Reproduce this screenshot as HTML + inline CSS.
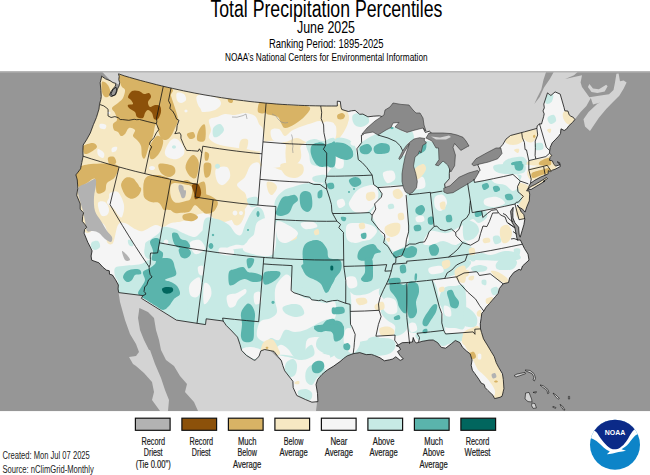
<!DOCTYPE html>
<html><head><meta charset="utf-8"><title>Total Precipitation Percentiles</title>
<style>html,body{margin:0;padding:0;background:#fff;overflow:hidden}body{width:650px;height:475px;position:relative}</style></head>
<body>
<svg width="650" height="475" viewBox="0 0 650 475" style="position:absolute;left:0;top:0">
<defs>
<clipPath id="mapclip"><rect x="0" y="71.3" width="650" height="340.0"/></clipPath>
<clipPath id="usclip"><path d="M101.6,76.9 L100.2,82.8 L100.9,90.3 L101.3,96.5 L100.8,99.6 L99.5,104.3 L99.0,109.0 L96.4,117.6 L93.4,124.7 L90.3,133.0 L86.5,139.9 L83.2,145.0 L82.9,150.8 L83.1,156.2 L81.8,162.6 L80.5,168.9 L75.9,174.9 L77.3,180.0 L77.8,188.3 L76.7,195.3 L80.2,203.8 L80.2,209.2 L83.6,212.9 L82.6,216.7 L82.3,221.3 L85.3,224.9 L86.7,227.3 L84.6,229.4 L84.1,233.2 L87.8,242.3 L90.7,247.9 L92.1,250.9 L91.1,256.0 L91.7,260.2 L98.9,262.8 L102.9,267.2 L106.4,270.1 L109.3,270.8 L109.5,274.2 L112.4,275.0 L115.5,279.7 L118.4,285.0 L118.1,288.9 L118.7,292.6 L142.9,295.6 L141.4,298.3 L176.4,320.1 L205.5,324.6 L206.2,318.8 L223.2,321.0 L226.2,325.4 L231.8,331.0 L237.5,337.1 L240.0,344.5 L241.6,350.4 L246.4,355.4 L253.5,359.8 L255.0,360.3 L259.0,356.4 L260.8,350.9 L264.7,349.5 L274.0,351.4 L278.0,356.7 L281.3,360.4 L282.8,365.6 L284.7,370.8 L292.9,381.3 L293.2,387.7 L296.8,395.5 L305.4,399.5 L311.9,402.2 L317.9,401.6 L317.5,393.4 L316.0,384.5 L317.7,379.4 L322.0,374.4 L327.3,370.0 L333.7,366.1 L340.0,361.6 L343.7,358.4 L347.3,355.8 L353.2,353.7 L359.8,352.6 L366.2,354.6 L371.4,354.4 L374.6,355.5 L380.0,357.8 L384.4,360.8 L389.6,359.8 L392.7,359.0 L395.8,356.8 L400.2,360.4 L403.3,358.9 L399.9,355.3 L397.5,351.6 L400.5,349.5 L399.3,347.0 L396.1,345.7 L398.2,345.1 L402.2,342.7 L408.4,342.4 L412.5,342.0 L413.2,337.5 L414.6,341.2 L416.3,343.0 L418.6,342.4 L421.9,341.4 L429.1,340.1 L433.2,340.0 L437.7,342.7 L441.3,347.4 L445.7,348.2 L451.5,343.6 L455.3,340.5 L459.8,342.5 L462.5,347.3 L466.7,351.2 L470.2,353.9 L472.1,360.0 L471.2,365.3 L472.4,370.3 L475.0,373.8 L479.1,379.6 L481.2,383.1 L484.2,384.5 L485.2,387.6 L487.8,390.4 L493.0,395.3 L494.6,398.6 L500.0,397.3 L502.0,396.3 L502.4,395.0 L503.9,388.7 L503.3,379.4 L502.4,373.7 L498.6,367.3 L496.2,362.6 L494.2,356.5 L491.3,351.8 L487.8,345.9 L483.5,338.9 L481.6,332.7 L480.5,328.9 L480.3,323.8 L481.1,318.5 L481.8,313.2 L483.8,311.1 L486.1,307.2 L489.6,303.4 L492.2,300.3 L495.6,296.4 L498.2,293.3 L499.4,288.5 L503.1,283.8 L508.5,282.5 L509.6,277.9 L513.7,272.5 L519.1,269.3 L521.0,270.2 L522.5,266.0 L529.0,260.1 L528.0,254.1 L524.4,248.4 L522.4,244.2 L520.4,240.0 L517.3,240.1 L515.9,233.1 L514.7,226.8 L511.9,222.1 L511.1,215.7 L510.6,211.2 L513.2,207.3 L512.8,212.7 L512.9,217.9 L514.9,222.8 L518.6,227.2 L519.2,235.0 L520.2,237.2 L522.2,230.4 L523.9,224.7 L524.8,219.2 L523.8,214.4 L521.3,212.1 L519.6,208.5 L517.4,205.0 L518.3,206.8 L522.5,209.1 L525.1,212.1 L526.8,206.8 L529.3,200.9 L529.7,194.1 L528.9,190.8 L526.6,190.9 L528.3,187.9 L528.9,186.4 L530.5,183.3 L534.9,180.2 L540.7,177.1 L545.2,175.2 L548.2,173.7 L548.3,170.6 L550.5,171.7 L551.1,171.1 L552.4,170.1 L555.0,169.3 L560.3,166.5 L559.6,162.7 L557.2,161.8 L559.0,163.5 L559.9,164.8 L555.5,166.1 L553.6,163.8 L552.3,160.8 L549.4,160.3 L550.1,157.4 L551.8,155.3 L549.5,153.3 L549.7,150.6 L550.2,147.4 L552.2,142.8 L555.1,139.9 L558.6,136.2 L560.5,133.6 L561.0,128.8 L564.2,130.5 L566.5,129.1 L569.1,125.5 L572.6,122.4 L574.8,119.6 L573.4,117.4 L570.8,116.2 L569.1,114.8 L568.0,111.1 L564.8,110.8 L564.1,107.7 L560.2,94.1 L555.1,91.9 L550.9,95.5 L549.3,94.4 L547.5,92.9 L543.8,104.1 L544.3,107.9 L543.0,110.9 L544.2,113.9 L543.6,116.7 L541.5,124.0 L539.5,123.9 L537.2,125.9 L536.9,128.4 L524.6,131.8 L510.5,135.5 L506.0,139.1 L502.8,144.5 L499.2,148.6 L496.3,156.7 L480.1,160.0 L477.9,165.2 L480.1,170.2 L471.7,179.0 L450.9,190.5 L445.0,187.2 L444.6,184.0 L449.3,178.8 L449.3,173.6 L450.3,160.4 L444.7,144.5 L435.4,138.7 L434.2,135.7 L429.4,131.2 L425.3,132.4 L422.6,126.9 L408.3,120.9 L392.1,112.3 L385.0,116.6 L382.8,116.8 L379.3,115.8 L373.2,116.2 L367.9,116.8 L362.9,114.1 L359.7,114.3 L355.1,110.4 L351.5,110.8 L348.3,111.5 L341.8,109.5 L341.0,107.2 L340.3,101.5 L337.3,101.2 L337.3,106.0 L331.8,106.0 L326.3,106.0 L320.8,105.9 L315.2,105.8 L309.7,105.7 L304.2,105.5 L298.6,105.3 L293.1,105.0 L287.6,104.7 L282.1,104.4 L276.5,104.0 L271.0,103.5 L265.5,103.1 L260.0,102.5 L254.5,102.0 L249.0,101.4 L243.5,100.7 L238.0,100.0 L232.5,99.3 L227.0,98.5 L221.5,97.7 L216.1,96.8 L210.6,95.9 L205.1,95.0 L199.7,94.0 L194.2,93.0 L188.8,91.9 L183.4,90.8 L178.0,89.6 L172.5,88.4 L167.1,87.2 L161.7,85.9 L156.3,84.6 L151.0,83.2 L145.6,81.8 L140.2,80.4 L134.9,78.9 L129.5,77.4 L124.2,75.8 L118.5,73.8 L119.2,76.5 L118.8,79.5 L119.6,82.6 L119.2,85.7 L118.0,88.0 L116.5,91.0 L115.4,94.2 L113.0,96.0 L110.8,96.5 L109.6,95.0 L110.8,91.8 L113.0,88.8 L115.4,86.0 L115.8,83.4 L113.0,82.6 L110.0,80.7 L105.4,78.8 L101.5,76.1Z M528.0,189.0 L531.0,186.5 L536.0,184.0 L541.0,181.0 L546.5,177.5 L547.5,178.5 L543.0,181.5 L545.0,181.0 L541.0,183.5 L536.0,186.5 L531.0,189.5Z"/></clipPath>
</defs>
<g clip-path="url(#mapclip)">
<rect x="0" y="71.3" width="650" height="340.0" fill="#969696"/>
<path d="M100.5,70.0 L578.4,70.0 L578.4,71.2 L574.0,75.3 L565.2,79.0 L574.0,77.0 L582.0,75.3 L580.6,82.6 L582.0,87.0 L589.4,97.2 L598.9,95.8 L609.0,94.3 L613.5,90.0 L615.0,82.6 L616.4,73.8 L618.6,73.6 L620.0,81.2 L623.7,80.4 L626.6,82.6 L623.7,88.5 L619.3,95.8 L613.5,101.6 L606.2,109.0 L598.9,117.7 L593.0,126.5 L590.0,130.9 L585.0,126.5 L583.5,119.2 L588.6,111.9 L597.4,103.8 L600.3,102.4 L593.0,104.5 L590.8,98.0 L586.4,106.0 L580.6,111.9 L575.5,118.4 L574.0,119.2 L560.0,130.0 L520.0,150.0 L480.0,185.0 L445.0,192.0 L440.0,180.0 L420.0,150.0 L400.0,130.0 L365.0,133.0 L330.0,115.0 L120.0,85.0 L112.0,82.0 L106.0,76.0Z" fill="#d3d3d3"/>
<path d="M587.9,87.0 L589.4,84.0 L593.0,88.5 L598.9,89.2 L606.2,84.8 L607.6,86.3 L604.7,91.4 L597.4,92.9 L591.5,92.1Z" fill="#d3d3d3"/>
<path d="M118.6,292.4 L120.0,302.0 L125.0,320.0 L130.0,334.0 L136.0,344.0 L139.0,352.0 L136.0,356.0 L129.0,357.0 L133.0,364.0 L136.0,366.0 L144.0,373.0 L152.0,382.0 L154.0,392.0 L152.0,400.0 L160.0,411.0 L316.0,411.0 L317.0,403.0 L300.0,380.0 L260.0,340.0 L210.0,315.0 L150.0,290.0Z" fill="#d3d3d3"/>
<path d="M101.6,76.9 L100.2,82.8 L100.9,90.3 L101.3,96.5 L100.8,99.6 L99.5,104.3 L99.0,109.0 L96.4,117.6 L93.4,124.7 L90.3,133.0 L86.5,139.9 L83.2,145.0 L82.9,150.8 L83.1,156.2 L81.8,162.6 L80.5,168.9 L75.9,174.9 L77.3,180.0 L77.8,188.3 L76.7,195.3 L80.2,203.8 L80.2,209.2 L83.6,212.9 L82.6,216.7 L82.3,221.3 L85.3,224.9 L86.7,227.3 L84.6,229.4 L84.1,233.2 L87.8,242.3 L90.7,247.9 L92.1,250.9 L91.1,256.0 L91.7,260.2 L98.9,262.8 L102.9,267.2 L106.4,270.1 L109.3,270.8 L109.5,274.2 L112.4,275.0 L115.5,279.7 L118.4,285.0 L118.1,288.9 L118.7,292.6 L142.9,295.6 L141.4,298.3 L176.4,320.1 L205.5,324.6 L206.2,318.8 L223.2,321.0 L226.2,325.4 L231.8,331.0 L237.5,337.1 L240.0,344.5 L241.6,350.4 L246.4,355.4 L253.5,359.8 L255.0,360.3 L259.0,356.4 L260.8,350.9 L264.7,349.5 L274.0,351.4 L278.0,356.7 L281.3,360.4 L282.8,365.6 L284.7,370.8 L292.9,381.3 L293.2,387.7 L296.8,395.5 L305.4,399.5 L311.9,402.2 L317.9,401.6 L317.5,393.4 L316.0,384.5 L317.7,379.4 L322.0,374.4 L327.3,370.0 L333.7,366.1 L340.0,361.6 L343.7,358.4 L347.3,355.8 L353.2,353.7 L359.8,352.6 L366.2,354.6 L371.4,354.4 L374.6,355.5 L380.0,357.8 L384.4,360.8 L389.6,359.8 L392.7,359.0 L395.8,356.8 L400.2,360.4 L403.3,358.9 L399.9,355.3 L397.5,351.6 L400.5,349.5 L399.3,347.0 L396.1,345.7 L398.2,345.1 L402.2,342.7 L408.4,342.4 L412.5,342.0 L413.2,337.5 L414.6,341.2 L416.3,343.0 L418.6,342.4 L421.9,341.4 L429.1,340.1 L433.2,340.0 L437.7,342.7 L441.3,347.4 L445.7,348.2 L451.5,343.6 L455.3,340.5 L459.8,342.5 L462.5,347.3 L466.7,351.2 L470.2,353.9 L472.1,360.0 L471.2,365.3 L472.4,370.3 L475.0,373.8 L479.1,379.6 L481.2,383.1 L484.2,384.5 L485.2,387.6 L487.8,390.4 L493.0,395.3 L494.6,398.6 L500.0,397.3 L502.0,396.3 L502.4,395.0 L503.9,388.7 L503.3,379.4 L502.4,373.7 L498.6,367.3 L496.2,362.6 L494.2,356.5 L491.3,351.8 L487.8,345.9 L483.5,338.9 L481.6,332.7 L480.5,328.9 L480.3,323.8 L481.1,318.5 L481.8,313.2 L483.8,311.1 L486.1,307.2 L489.6,303.4 L492.2,300.3 L495.6,296.4 L498.2,293.3 L499.4,288.5 L503.1,283.8 L508.5,282.5 L509.6,277.9 L513.7,272.5 L519.1,269.3 L521.0,270.2 L522.5,266.0 L529.0,260.1 L528.0,254.1 L524.4,248.4 L522.4,244.2 L520.4,240.0 L517.3,240.1 L515.9,233.1 L514.7,226.8 L511.9,222.1 L511.1,215.7 L510.6,211.2 L513.2,207.3 L512.8,212.7 L512.9,217.9 L514.9,222.8 L518.6,227.2 L519.2,235.0 L520.2,237.2 L522.2,230.4 L523.9,224.7 L524.8,219.2 L523.8,214.4 L521.3,212.1 L519.6,208.5 L517.4,205.0 L518.3,206.8 L522.5,209.1 L525.1,212.1 L526.8,206.8 L529.3,200.9 L529.7,194.1 L528.9,190.8 L526.6,190.9 L528.3,187.9 L528.9,186.4 L530.5,183.3 L534.9,180.2 L540.7,177.1 L545.2,175.2 L548.2,173.7 L548.3,170.6 L550.5,171.7 L551.1,171.1 L552.4,170.1 L555.0,169.3 L560.3,166.5 L559.6,162.7 L557.2,161.8 L559.0,163.5 L559.9,164.8 L555.5,166.1 L553.6,163.8 L552.3,160.8 L549.4,160.3 L550.1,157.4 L551.8,155.3 L549.5,153.3 L549.7,150.6 L550.2,147.4 L552.2,142.8 L555.1,139.9 L558.6,136.2 L560.5,133.6 L561.0,128.8 L564.2,130.5 L566.5,129.1 L569.1,125.5 L572.6,122.4 L574.8,119.6 L573.4,117.4 L570.8,116.2 L569.1,114.8 L568.0,111.1 L564.8,110.8 L564.1,107.7 L560.2,94.1 L555.1,91.9 L550.9,95.5 L549.3,94.4 L547.5,92.9 L543.8,104.1 L544.3,107.9 L543.0,110.9 L544.2,113.9 L543.6,116.7 L541.5,124.0 L539.5,123.9 L537.2,125.9 L536.9,128.4 L524.6,131.8 L510.5,135.5 L506.0,139.1 L502.8,144.5 L499.2,148.6 L496.3,156.7 L480.1,160.0 L477.9,165.2 L480.1,170.2 L471.7,179.0 L450.9,190.5 L445.0,187.2 L444.6,184.0 L449.3,178.8 L449.3,173.6 L450.3,160.4 L444.7,144.5 L435.4,138.7 L434.2,135.7 L429.4,131.2 L425.3,132.4 L422.6,126.9 L408.3,120.9 L392.1,112.3 L385.0,116.6 L382.8,116.8 L379.3,115.8 L373.2,116.2 L367.9,116.8 L362.9,114.1 L359.7,114.3 L355.1,110.4 L351.5,110.8 L348.3,111.5 L341.8,109.5 L341.0,107.2 L340.3,101.5 L337.3,101.2 L337.3,106.0 L331.8,106.0 L326.3,106.0 L320.8,105.9 L315.2,105.8 L309.7,105.7 L304.2,105.5 L298.6,105.3 L293.1,105.0 L287.6,104.7 L282.1,104.4 L276.5,104.0 L271.0,103.5 L265.5,103.1 L260.0,102.5 L254.5,102.0 L249.0,101.4 L243.5,100.7 L238.0,100.0 L232.5,99.3 L227.0,98.5 L221.5,97.7 L216.1,96.8 L210.6,95.9 L205.1,95.0 L199.7,94.0 L194.2,93.0 L188.8,91.9 L183.4,90.8 L178.0,89.6 L172.5,88.4 L167.1,87.2 L161.7,85.9 L156.3,84.6 L151.0,83.2 L145.6,81.8 L140.2,80.4 L134.9,78.9 L129.5,77.4 L124.2,75.8 L118.5,73.8 L119.2,76.5 L118.8,79.5 L119.6,82.6 L119.2,85.7 L118.0,88.0 L116.5,91.0 L115.4,94.2 L113.0,96.0 L110.8,96.5 L109.6,95.0 L110.8,91.8 L113.0,88.8 L115.4,86.0 L115.8,83.4 L113.0,82.6 L110.0,80.7 L105.4,78.8 L101.5,76.1Z M528.0,189.0 L531.0,186.5 L536.0,184.0 L541.0,181.0 L546.5,177.5 L547.5,178.5 L543.0,181.5 L545.0,181.0 L541.0,183.5 L536.0,186.5 L531.0,189.5Z" fill="#f5f5f5"/>
<g clip-path="url(#usclip)">
<path d="M95.0,70.0 C137.5,61.7 290.8,86.7 330.0,100.0 C369.2,113.3 335.0,141.7 330.0,150.0 C325.0,158.3 307.5,146.7 300.0,150.0 C292.5,153.3 291.3,167.5 285.0,170.0 C278.7,172.5 267.0,161.7 262.0,165.0 C257.0,168.3 258.7,181.7 255.0,190.0 C251.3,198.3 245.8,209.7 240.0,215.0 C234.2,220.3 225.8,222.3 220.0,222.0 C214.2,221.7 211.2,213.2 205.0,213.0 C198.8,212.8 188.7,219.3 183.0,221.0 C177.3,222.7 174.3,222.0 171.0,223.0 C167.7,224.0 165.7,226.7 163.0,227.0 C160.3,227.3 158.3,224.3 155.0,225.0 C151.7,225.7 146.3,230.3 143.0,231.0 C139.7,231.7 138.0,230.3 135.0,229.0 C132.0,227.7 127.8,223.7 125.0,223.0 C122.2,222.3 120.0,221.7 118.0,225.0 C116.0,228.3 114.8,240.2 113.0,243.0 C111.2,245.8 108.0,244.0 107.0,242.0 C106.0,240.0 108.0,234.2 107.0,231.0 C106.0,227.8 104.3,222.7 101.0,223.0 C97.7,223.3 90.5,234.3 87.0,233.0 C83.5,231.7 82.0,228.8 80.0,215.0 C78.0,201.2 72.5,174.2 75.0,150.0 C77.5,125.8 52.5,78.3 95.0,70.0Z" fill="#f6e8c3"/>
<path d="M335.0,165.0 C356.7,149.2 443.3,155.0 465.0,165.0 C486.7,175.0 465.3,215.0 465.0,225.0 C464.7,235.0 466.0,223.7 463.0,225.0 C460.0,226.3 452.3,232.0 447.0,233.0 C441.7,234.0 435.0,229.3 431.0,231.0 C427.0,232.7 423.0,240.7 423.0,243.0 C423.0,245.3 427.7,245.3 431.0,245.0 C434.3,244.7 439.0,241.0 443.0,241.0 C447.0,241.0 451.3,245.0 455.0,245.0 C458.7,245.0 463.3,238.5 465.0,241.0 C466.7,243.5 486.7,256.8 465.0,260.0 C443.3,263.2 356.7,275.8 335.0,260.0 C313.3,244.2 313.3,180.8 335.0,165.0Z" fill="#c7eae5"/>
<path d="M464.0,173.0 C465.7,166.8 465.1,181.7 474.0,182.0 C482.9,182.3 509.7,174.8 517.4,174.6 C525.1,174.4 519.9,178.9 520.0,181.0 C520.1,183.1 517.7,184.0 518.0,187.0 C518.3,190.0 521.8,196.0 522.0,199.0 C522.2,202.0 520.0,204.2 519.0,205.0 C518.0,205.8 523.8,202.8 516.0,204.0 C508.2,205.2 477.2,210.8 472.0,212.0 C466.8,213.2 482.5,210.2 485.0,211.0 C487.5,211.8 488.0,215.0 487.0,217.0 C486.0,219.0 481.3,222.7 479.0,223.0 C476.7,223.3 475.5,219.7 473.0,219.0 C470.5,218.3 465.5,226.7 464.0,219.0 C462.5,211.3 462.3,179.2 464.0,173.0Z" fill="#c7eae5"/>
<path d="M115.0,268.0 C116.3,266.3 118.7,266.7 123.0,266.0 C127.3,265.3 135.7,265.2 141.0,264.0 C146.3,262.8 144.3,259.8 155.0,259.0 C165.7,258.2 196.7,247.8 205.0,259.0 C213.3,270.2 209.3,315.7 205.0,326.0 C200.7,336.3 189.5,325.7 179.0,321.0 C168.5,316.3 152.0,302.5 142.0,298.0 C132.0,293.5 123.0,296.7 119.0,294.0 C115.0,291.3 118.7,285.0 118.0,282.0 C117.3,279.0 115.5,278.3 115.0,276.0 C114.5,273.7 113.7,269.7 115.0,268.0Z" fill="#c7eae5"/>
<path d="M204.0,259.0 C225.8,243.0 313.2,243.0 335.0,259.0 C356.8,275.0 356.8,339.0 335.0,355.0 C313.2,371.0 225.8,371.0 204.0,355.0 C182.2,339.0 182.2,275.0 204.0,259.0Z" fill="#c7eae5"/>
<path d="M334.0,259.0 C343.8,252.2 383.8,255.8 393.0,259.0 C402.2,262.2 390.3,273.5 389.0,278.0 C387.7,282.5 387.3,284.0 385.0,286.0 C382.7,288.0 378.0,288.7 375.0,290.0 C372.0,291.3 370.3,293.2 367.0,294.0 C363.7,294.8 358.3,295.7 355.0,295.0 C351.7,294.3 348.7,289.2 347.0,290.0 C345.3,290.8 347.2,298.3 345.0,300.0 C342.8,301.7 335.8,306.8 334.0,300.0 C332.2,293.2 324.2,265.8 334.0,259.0Z" fill="#c7eae5"/>
<path d="M334.0,304.0 C335.8,295.3 342.3,302.0 345.0,303.0 C347.7,304.0 349.0,306.2 350.0,310.0 C351.0,313.8 350.5,321.0 351.0,326.0 C351.5,331.0 352.3,335.2 353.0,340.0 C353.7,344.8 358.2,352.5 355.0,355.0 C351.8,357.5 337.5,363.5 334.0,355.0 C330.5,346.5 332.2,312.7 334.0,304.0Z" fill="#c7eae5"/>
<path d="M355.0,344.0 C357.3,341.5 364.7,341.0 369.0,340.0 C373.3,339.0 377.0,338.0 381.0,338.0 C385.0,338.0 390.7,338.3 393.0,340.0 C395.3,341.7 396.3,345.5 395.0,348.0 C393.7,350.5 391.7,353.8 385.0,355.0 C378.3,356.2 360.0,356.8 355.0,355.0 C350.0,353.2 352.7,346.5 355.0,344.0Z" fill="#c7eae5"/>
<path d="M383.0,286.0 C387.7,284.3 402.8,277.3 407.0,284.0 C411.2,290.7 410.0,317.3 408.0,326.0 C406.0,334.7 397.2,336.0 395.0,336.0 C392.8,336.0 396.3,328.7 395.0,326.0 C393.7,323.3 389.3,322.3 387.0,320.0 C384.7,317.7 381.5,315.3 381.0,312.0 C380.5,308.7 384.3,303.0 384.0,300.0 C383.7,297.0 379.2,296.3 379.0,294.0 C378.8,291.7 378.3,287.7 383.0,286.0Z" fill="#c7eae5"/>
<path d="M407.0,283.6 C411.2,276.1 427.3,276.1 433.0,281.0 C438.7,285.9 439.2,304.3 441.0,313.0 C442.8,321.7 447.8,329.7 444.0,333.0 C440.2,336.3 423.7,333.2 418.0,333.0 C412.3,332.8 411.7,333.2 410.0,332.0 C408.3,330.8 408.5,334.1 408.0,326.0 C407.5,317.9 402.8,291.1 407.0,283.6Z" fill="#c7eae5"/>
<path d="M393.0,259.0 C405.7,255.8 453.0,257.2 465.0,259.0 C477.0,260.8 468.5,266.8 465.0,270.0 C461.5,273.2 449.3,276.7 444.0,278.4 C438.7,280.1 439.2,279.1 433.0,280.0 C426.8,280.9 414.5,282.9 407.0,283.6 C399.5,284.3 391.0,285.3 388.0,284.4 C385.0,283.5 388.2,282.2 389.0,278.0 C389.8,273.8 380.3,262.2 393.0,259.0Z" fill="#c7eae5"/>
<path d="M444.0,288.0 C446.7,285.7 451.5,286.0 455.0,286.0 C458.5,286.0 463.3,281.3 465.0,288.0 C466.7,294.7 466.7,319.3 465.0,326.0 C463.3,332.7 458.5,328.0 455.0,328.0 C451.5,328.0 446.0,328.7 444.0,326.0 C442.0,323.3 443.8,316.3 443.0,312.0 C442.2,307.7 438.8,304.0 439.0,300.0 C439.2,296.0 441.3,290.3 444.0,288.0Z" fill="#c7eae5"/>
<path d="M418.0,333.0 C422.2,331.8 436.2,332.8 444.0,333.0 C451.8,333.2 461.5,332.8 465.0,334.0 C468.5,335.2 468.7,338.3 465.0,340.0 C461.3,341.7 450.7,344.0 443.0,344.0 C435.3,344.0 423.2,341.8 419.0,340.0 C414.8,338.2 413.8,334.2 418.0,333.0Z" fill="#c7eae5"/>
<path d="M110.6,113.0 C110.6,113.3 110.4,113.6 110.1,113.8 C109.9,114.0 109.4,114.2 109.0,114.2 C108.6,114.2 108.1,114.0 107.9,113.8 C107.6,113.6 107.4,113.3 107.4,113.0 C107.4,112.7 107.6,112.4 107.9,112.2 C108.1,112.0 108.6,111.8 109.0,111.8 C109.4,111.8 109.9,112.0 110.1,112.2 C110.4,112.4 110.6,112.7 110.6,113.0Z" fill="#f5f5f5"/>
<path d="M100.0,124.0 C101.0,123.5 105.2,124.2 106.0,125.0 C106.8,125.8 106.0,128.5 105.0,129.0 C104.0,129.5 100.8,128.8 100.0,128.0 C99.2,127.2 99.0,124.5 100.0,124.0Z" fill="#f5f5f5"/>
<path d="M98.0,149.0 C99.0,148.7 103.2,151.5 104.0,153.0 C104.8,154.5 104.0,157.7 103.0,158.0 C102.0,158.3 98.8,156.5 98.0,155.0 C97.2,153.5 97.0,149.3 98.0,149.0Z" fill="#f5f5f5"/>
<path d="M112.0,148.0 C112.8,147.2 116.3,146.5 117.0,147.0 C117.7,147.5 116.8,150.2 116.0,151.0 C115.2,151.8 112.7,152.5 112.0,152.0 C111.3,151.5 111.2,148.8 112.0,148.0Z" fill="#f5f5f5"/>
<path d="M166.0,148.0 C167.0,145.7 169.2,141.5 171.0,140.0 C172.8,138.5 175.0,138.0 177.0,139.0 C179.0,140.0 181.8,143.5 183.0,146.0 C184.2,148.5 185.0,151.8 184.0,154.0 C183.0,156.2 179.5,158.3 177.0,159.0 C174.5,159.7 171.0,158.8 169.0,158.0 C167.0,157.2 165.5,155.7 165.0,154.0 C164.5,152.3 165.0,150.3 166.0,148.0Z" fill="#f5f5f5"/>
<path d="M177.0,93.0 C178.2,92.0 182.5,92.8 184.0,94.0 C185.5,95.2 186.5,98.5 186.0,100.0 C185.5,101.5 182.5,103.0 181.0,103.0 C179.5,103.0 177.7,101.7 177.0,100.0 C176.3,98.3 175.8,94.0 177.0,93.0Z" fill="#f5f5f5"/>
<path d="M197.0,96.0 C198.3,94.8 203.7,92.7 205.0,95.0 C206.3,97.3 205.8,107.8 205.0,110.0 C204.2,112.2 201.3,109.3 200.0,108.0 C198.7,106.7 197.5,104.0 197.0,102.0 C196.5,100.0 195.7,97.2 197.0,96.0Z" fill="#f5f5f5"/>
<path d="M187.6,111.0 C187.6,111.4 187.4,111.9 187.1,112.1 C186.9,112.4 186.4,112.6 186.0,112.6 C185.6,112.6 185.1,112.4 184.9,112.1 C184.6,111.9 184.4,111.4 184.4,111.0 C184.4,110.6 184.6,110.1 184.9,109.9 C185.1,109.6 185.6,109.4 186.0,109.4 C186.4,109.4 186.9,109.6 187.1,109.9 C187.4,110.1 187.6,110.6 187.6,111.0Z" fill="#f5f5f5"/>
<path d="M209.0,120.0 C210.0,117.8 214.3,118.0 217.0,117.0 C219.7,116.0 222.0,114.3 225.0,114.0 C228.0,113.7 231.7,115.2 235.0,115.0 C238.3,114.8 241.7,112.8 245.0,113.0 C248.3,113.2 252.7,114.2 255.0,116.0 C257.3,117.8 257.7,121.7 259.0,124.0 C260.3,126.3 262.3,125.7 263.0,130.0 C263.7,134.3 266.0,146.8 263.0,150.0 C260.0,153.2 250.3,149.5 245.0,149.0 C239.7,148.5 235.7,147.8 231.0,147.0 C226.3,146.2 220.7,145.5 217.0,144.0 C213.3,142.5 210.0,140.3 209.0,138.0 C208.0,135.7 211.0,133.0 211.0,130.0 C211.0,127.0 208.0,122.2 209.0,120.0Z" fill="#f5f5f5"/>
<path d="M201.0,95.0 C203.7,93.0 213.7,96.5 217.0,98.0 C220.3,99.5 221.3,102.0 221.0,104.0 C220.7,106.0 217.7,108.7 215.0,110.0 C212.3,111.3 207.3,112.0 205.0,112.0 C202.7,112.0 201.7,112.8 201.0,110.0 C200.3,107.2 198.3,97.0 201.0,95.0Z" fill="#f5f5f5"/>
<path d="M271.0,130.0 C272.0,128.2 276.7,128.0 279.0,129.0 C281.3,130.0 282.7,135.8 285.0,136.0 C287.3,136.2 289.0,132.0 293.0,130.0 C297.0,128.0 304.2,125.3 309.0,124.0 C313.8,122.7 319.5,119.3 322.0,122.0 C324.5,124.7 326.2,136.5 324.0,140.0 C321.8,143.5 313.5,143.3 309.0,143.0 C304.5,142.7 301.0,138.2 297.0,138.0 C293.0,137.8 289.0,141.7 285.0,142.0 C281.0,142.3 275.3,142.0 273.0,140.0 C270.7,138.0 270.0,131.8 271.0,130.0Z" fill="#f5f5f5"/>
<path d="M263.0,143.0 C266.8,139.5 281.3,140.3 285.0,144.0 C288.7,147.7 288.8,161.5 285.0,165.0 C281.2,168.5 265.7,168.7 262.0,165.0 C258.3,161.3 259.2,146.5 263.0,143.0Z" fill="#f5f5f5"/>
<path d="M301.0,146.0 C303.2,142.5 311.0,140.8 313.0,144.0 C315.0,147.2 315.2,161.5 313.0,165.0 C310.8,168.5 302.0,168.2 300.0,165.0 C298.0,161.8 298.8,149.5 301.0,146.0Z" fill="#f5f5f5"/>
<path d="M286.0,147.0 C287.0,143.5 290.8,144.2 293.0,144.0 C295.2,143.8 298.1,143.7 299.4,146.0 C300.7,148.3 301.7,154.8 301.0,158.0 C300.3,161.2 297.3,163.8 295.0,165.0 C292.7,166.2 288.5,168.0 287.0,165.0 C285.5,162.0 285.0,150.5 286.0,147.0Z" fill="#f6e8c3"/>
<path d="M241.0,140.0 C242.4,138.5 247.2,138.3 248.0,140.0 C248.8,141.7 247.4,148.5 246.0,150.0 C244.6,151.5 240.2,150.7 239.4,149.0 C238.6,147.3 239.6,141.5 241.0,140.0Z" fill="#f6e8c3"/>
<path d="M323.0,123.0 C324.8,120.3 333.0,121.3 335.0,124.0 C337.0,126.7 336.8,136.3 335.0,139.0 C333.2,141.7 326.0,142.7 324.0,140.0 C322.0,137.3 321.2,125.7 323.0,123.0Z" fill="#f5f5f5"/>
<path d="M349.0,117.6 C349.0,120.0 347.9,123.0 346.5,124.7 C345.1,126.3 342.6,127.6 340.6,127.6 C338.6,127.6 336.1,126.3 334.7,124.7 C333.3,123.0 332.2,120.0 332.2,117.6 C332.2,115.2 333.3,112.2 334.7,110.5 C336.1,108.9 338.6,107.6 340.6,107.6 C342.6,107.6 345.1,108.9 346.5,110.5 C347.9,112.2 349.0,115.2 349.0,117.6Z" fill="#f6e8c3"/>
<path d="M353.0,115.0 C354.8,113.2 362.3,111.8 365.0,113.0 C367.7,114.2 369.7,119.7 369.0,122.0 C368.3,124.3 363.5,126.7 361.0,127.0 C358.5,127.3 355.3,126.0 354.0,124.0 C352.7,122.0 351.2,116.8 353.0,115.0Z" fill="#c7eae5"/>
<path d="M378.0,133.0 C381.7,131.3 383.2,129.5 387.0,130.0 C390.8,130.5 398.0,133.7 401.0,136.0 C404.0,138.3 405.0,141.0 405.0,144.0 C405.0,147.0 403.3,151.7 401.0,154.0 C398.7,156.3 395.3,156.2 391.0,158.0 C386.7,159.8 380.7,163.8 375.0,165.0 C369.3,166.2 360.2,166.2 357.0,165.0 C353.8,163.8 355.7,161.2 356.0,158.0 C356.3,154.8 357.5,149.0 359.0,146.0 C360.5,143.0 361.8,142.2 365.0,140.0 C368.2,137.8 374.3,134.7 378.0,133.0Z" fill="#c7eae5"/>
<path d="M335.0,140.0 C337.0,135.7 343.7,138.0 347.0,139.0 C350.3,140.0 353.5,142.8 355.0,146.0 C356.5,149.2 356.3,154.8 356.0,158.0 C355.7,161.2 356.5,163.8 353.0,165.0 C349.5,166.2 338.0,169.2 335.0,165.0 C332.0,160.8 333.0,144.3 335.0,140.0Z" fill="#c7eae5"/>
<path d="M415.0,148.0 C416.7,144.0 421.0,141.3 425.0,141.0 C429.0,140.7 436.3,142.0 439.0,146.0 C441.7,150.0 445.0,161.8 441.0,165.0 C437.0,168.2 419.3,167.8 415.0,165.0 C410.7,162.2 413.3,152.0 415.0,148.0Z" fill="#c7eae5"/>
<path d="M545.0,96.0 C546.2,94.5 551.9,93.4 553.0,94.4 C554.1,95.4 552.6,100.5 551.4,102.0 C550.2,103.5 547.1,104.6 546.0,103.6 C544.9,102.6 543.8,97.5 545.0,96.0Z" fill="#c7eae5"/>
<path d="M548.0,117.0 C549.0,116.0 552.7,114.3 554.0,115.0 C555.3,115.7 556.5,119.5 556.0,121.0 C555.5,122.5 552.3,124.0 551.0,124.0 C549.7,124.0 548.5,122.2 548.0,121.0 C547.5,119.8 547.0,118.0 548.0,117.0Z" fill="#c7eae5"/>
<path d="M563.0,113.0 C563.8,111.3 567.0,108.6 569.0,109.6 C571.0,110.6 575.0,116.5 575.0,119.0 C575.0,121.5 570.8,124.2 569.0,124.4 C567.2,124.6 565.0,121.9 564.0,120.0 C563.0,118.1 562.2,114.7 563.0,113.0Z" fill="#f6e8c3"/>
<path d="M547.0,130.0 C547.2,129.3 550.5,128.5 551.0,129.0 C551.5,129.5 550.7,132.8 550.0,133.0 C549.3,133.2 546.8,130.7 547.0,130.0Z" fill="#f6e8c3"/>
<path d="M505.0,141.0 C505.3,139.3 508.2,135.6 511.0,134.0 C513.8,132.4 519.9,130.6 522.0,131.6 C524.1,132.6 524.2,137.9 523.4,140.0 C522.6,142.1 519.4,143.7 517.0,144.4 C514.6,145.1 511.0,145.0 509.0,144.4 C507.0,143.8 504.7,142.7 505.0,141.0Z" fill="#f6e8c3"/>
<path d="M514.0,150.0 C514.2,149.3 518.3,148.5 519.0,149.0 C519.7,149.5 518.8,152.8 518.0,153.0 C517.2,153.2 513.8,150.7 514.0,150.0Z" fill="#f6e8c3"/>
<path d="M522.6,133.0 C524.3,131.3 533.1,128.8 535.4,129.6 C537.7,130.4 537.1,135.9 536.4,138.0 C535.7,140.1 532.9,142.1 531.0,142.4 C529.1,142.7 526.4,141.6 525.0,140.0 C523.6,138.4 520.9,134.7 522.6,133.0Z" fill="#f6e8c3"/>
<path d="M535.0,144.0 C536.0,142.8 540.7,142.2 542.0,143.0 C543.3,143.8 544.0,147.8 543.0,149.0 C542.0,150.2 537.3,150.8 536.0,150.0 C534.7,149.2 534.0,145.2 535.0,144.0Z" fill="#c7eae5"/>
<path d="M508.0,159.0 C511.2,157.7 520.0,156.0 523.0,157.0 C526.0,158.0 529.2,163.7 526.0,165.0 C522.8,166.3 507.0,166.0 504.0,165.0 C501.0,164.0 504.8,160.3 508.0,159.0Z" fill="#c7eae5"/>
<path d="M529.0,161.0 C531.7,159.8 540.9,159.2 545.0,158.0 C549.1,156.8 551.7,152.4 553.4,153.6 C555.1,154.8 559.1,163.1 555.0,165.0 C550.9,166.9 533.3,165.7 529.0,165.0 C524.7,164.3 526.3,162.2 529.0,161.0Z" fill="#f6e8c3"/>
<path d="M110.0,193.0 C111.5,192.0 115.7,190.0 118.0,192.0 C120.3,194.0 123.3,200.8 124.0,205.0 C124.7,209.2 123.0,215.3 122.0,217.0 C121.0,218.7 119.3,216.3 118.0,215.0 C116.7,213.7 115.8,211.0 114.0,209.0 C112.2,207.0 107.8,204.8 107.0,203.0 C106.2,201.2 108.5,199.7 109.0,198.0 C109.5,196.3 108.5,194.0 110.0,193.0Z" fill="#f5f5f5"/>
<path d="M98.0,203.0 C98.7,200.8 103.2,201.0 105.0,202.0 C106.8,203.0 108.7,206.8 109.0,209.0 C109.3,211.2 108.3,214.0 107.0,215.0 C105.7,216.0 102.5,217.0 101.0,215.0 C99.5,213.0 97.3,205.2 98.0,203.0Z" fill="#f5f5f5"/>
<path d="M145.0,245.0 C145.0,241.5 148.7,241.0 151.0,239.0 C153.3,237.0 157.0,235.0 159.0,233.0 C161.0,231.0 160.3,227.7 163.0,227.0 C165.7,226.3 171.7,228.0 175.0,229.0 C178.3,230.0 179.7,231.7 183.0,233.0 C186.3,234.3 191.3,237.3 195.0,237.0 C198.7,236.7 203.3,227.2 205.0,231.0 C206.7,234.8 214.0,255.2 205.0,260.0 C196.0,264.8 161.0,262.5 151.0,260.0 C141.0,257.5 145.0,248.5 145.0,245.0Z" fill="#c7eae5"/>
<path d="M92.0,242.0 C93.2,241.0 96.7,240.2 98.0,241.0 C99.3,241.8 100.5,245.5 100.0,247.0 C99.5,248.5 96.5,250.0 95.0,250.0 C93.5,250.0 91.5,248.3 91.0,247.0 C90.5,245.7 90.8,243.0 92.0,242.0Z" fill="#c7eae5"/>
<path d="M128.0,240.0 C128.5,239.3 131.2,240.0 132.0,241.0 C132.8,242.0 133.5,245.3 133.0,246.0 C132.5,246.7 129.8,246.0 129.0,245.0 C128.2,244.0 127.5,240.7 128.0,240.0Z" fill="#c7eae5"/>
<path d="M155.0,168.0 C155.0,168.5 154.6,169.1 154.1,169.4 C153.6,169.7 152.7,170.0 152.0,170.0 C151.3,170.0 150.4,169.7 149.9,169.4 C149.4,169.1 149.0,168.5 149.0,168.0 C149.0,167.5 149.4,166.9 149.9,166.6 C150.4,166.3 151.3,166.0 152.0,166.0 C152.7,166.0 153.6,166.3 154.1,166.6 C154.6,166.9 155.0,167.5 155.0,168.0Z" fill="#f5f5f5"/>
<path d="M216.0,169.0 C217.7,166.7 224.7,165.7 227.0,167.0 C229.3,168.3 230.7,174.0 230.0,177.0 C229.3,180.0 225.2,184.3 223.0,185.0 C220.8,185.7 218.2,183.7 217.0,181.0 C215.8,178.3 214.3,171.3 216.0,169.0Z" fill="#f5f5f5"/>
<path d="M237.0,185.0 C237.0,182.3 242.7,180.3 245.0,177.0 C247.3,173.7 248.5,167.0 251.0,165.0 C253.5,163.0 258.7,160.0 260.0,165.0 C261.3,170.0 261.0,189.3 259.0,195.0 C257.0,200.7 250.3,199.3 248.0,199.0 C245.7,198.7 246.8,195.3 245.0,193.0 C243.2,190.7 237.0,187.7 237.0,185.0Z" fill="#f5f5f5"/>
<path d="M213.0,203.0 C216.8,201.3 231.7,201.7 237.0,203.0 C242.3,204.3 244.3,207.7 245.0,211.0 C245.7,214.3 242.7,220.7 241.0,223.0 C239.3,225.3 237.0,226.0 235.0,225.0 C233.0,224.0 232.0,218.0 229.0,217.0 C226.0,216.0 219.5,219.7 217.0,219.0 C214.5,218.3 214.7,215.7 214.0,213.0 C213.3,210.3 209.2,204.7 213.0,203.0Z" fill="#f6e8c3"/>
<path d="M204.0,221.0 C206.2,214.2 212.8,218.3 217.0,219.0 C221.2,219.7 226.0,222.7 229.0,225.0 C232.0,227.3 233.0,231.3 235.0,233.0 C237.0,234.7 239.3,236.3 241.0,235.0 C242.7,233.7 243.3,228.7 245.0,225.0 C246.7,221.3 249.0,216.0 251.0,213.0 C253.0,210.0 255.0,207.3 257.0,207.0 C259.0,206.7 261.7,208.3 263.0,211.0 C264.3,213.7 265.7,219.7 265.0,223.0 C264.3,226.3 261.7,228.3 259.0,231.0 C256.3,233.7 251.3,236.7 249.0,239.0 C246.7,241.3 247.3,244.0 245.0,245.0 C242.7,246.0 238.3,244.3 235.0,245.0 C231.7,245.7 228.0,247.0 225.0,249.0 C222.0,251.0 220.5,255.2 217.0,257.0 C213.5,258.8 206.2,266.0 204.0,260.0 C201.8,254.0 201.8,227.8 204.0,221.0Z" fill="#c7eae5"/>
<path d="M247.0,199.0 C248.0,197.3 255.2,196.0 257.0,197.0 C258.8,198.0 259.0,203.3 258.0,205.0 C257.0,206.7 252.8,208.0 251.0,207.0 C249.2,206.0 246.0,200.7 247.0,199.0Z" fill="#c7eae5"/>
<path d="M267.0,182.0 C268.0,180.7 272.3,182.0 274.0,183.0 C275.7,184.0 277.3,186.0 277.0,188.0 C276.7,190.0 273.5,194.5 272.0,195.0 C270.5,195.5 268.8,193.2 268.0,191.0 C267.2,188.8 266.0,183.3 267.0,182.0Z" fill="#f6e8c3"/>
<path d="M275.0,201.0 C276.3,197.0 280.0,193.3 283.0,191.0 C286.0,188.7 288.7,188.3 293.0,187.0 C297.3,185.7 303.7,183.3 309.0,183.0 C314.3,182.7 321.7,183.0 325.0,185.0 C328.3,187.0 327.7,190.7 329.0,195.0 C330.3,199.3 332.0,206.5 333.0,211.0 C334.0,215.5 334.7,213.8 335.0,222.0 C335.3,230.2 345.2,253.7 335.0,260.0 C324.8,266.3 284.0,266.7 274.0,260.0 C264.0,253.3 274.8,227.5 275.0,220.0 C275.2,212.5 275.0,218.2 275.0,215.0 C275.0,211.8 273.7,205.0 275.0,201.0Z" fill="#c7eae5"/>
<path d="M281.0,164.0 C283.7,162.2 297.3,162.5 301.0,164.0 C304.7,165.5 304.0,170.7 303.0,173.0 C302.0,175.3 298.0,177.7 295.0,178.0 C292.0,178.3 287.3,177.3 285.0,175.0 C282.7,172.7 278.3,165.8 281.0,164.0Z" fill="#f6e8c3"/>
<path d="M313.0,177.0 C314.7,175.8 322.7,174.2 325.0,175.0 C327.3,175.8 328.7,180.8 327.0,182.0 C325.3,183.2 317.3,182.8 315.0,182.0 C312.7,181.2 311.3,178.2 313.0,177.0Z" fill="#c7eae5"/>
<path d="M359.0,189.0 C362.7,186.7 369.8,184.7 373.0,185.0 C376.2,185.3 377.3,188.3 378.0,191.0 C378.7,193.7 378.8,197.5 377.0,201.0 C375.2,204.5 370.7,210.2 367.0,212.0 C363.3,213.8 358.0,213.2 355.0,212.0 C352.0,210.8 349.7,207.2 349.0,205.0 C348.3,202.8 349.3,201.7 351.0,199.0 C352.7,196.3 355.3,191.3 359.0,189.0Z" fill="#f5f5f5"/>
<path d="M380.0,187.0 C383.3,185.5 397.5,184.3 402.0,186.0 C406.5,187.7 406.0,189.5 407.0,197.0 C408.0,204.5 407.7,224.0 408.0,231.0 C408.3,238.0 409.5,236.5 409.0,239.0 C408.5,241.5 407.3,244.0 405.0,246.0 C402.7,248.0 397.3,250.5 395.0,251.0 C392.7,251.5 392.8,251.3 391.0,249.0 C389.2,246.7 385.8,239.8 384.0,237.0 C382.2,234.2 381.5,234.5 380.0,232.0 C378.5,229.5 376.5,225.2 375.0,222.0 C373.5,218.8 371.2,215.3 371.0,213.0 C370.8,210.7 373.2,209.8 374.0,208.0 C374.8,206.2 374.7,204.2 376.0,202.0 C377.3,199.8 381.3,197.5 382.0,195.0 C382.7,192.5 376.7,188.5 380.0,187.0Z" fill="#f5f5f5"/>
<path d="M347.0,225.0 C349.0,222.3 355.0,223.0 359.0,223.0 C363.0,223.0 368.0,223.7 371.0,225.0 C374.0,226.3 377.0,228.7 377.0,231.0 C377.0,233.3 373.3,237.3 371.0,239.0 C368.7,240.7 365.7,240.3 363.0,241.0 C360.3,241.7 357.7,243.3 355.0,243.0 C352.3,242.7 348.3,242.0 347.0,239.0 C345.7,236.0 345.0,227.7 347.0,225.0Z" fill="#f5f5f5"/>
<path d="M416.0,217.0 C417.0,216.0 421.7,215.3 423.0,216.0 C424.3,216.7 425.0,220.0 424.0,221.0 C423.0,222.0 418.3,222.7 417.0,222.0 C415.7,221.3 415.0,218.0 416.0,217.0Z" fill="#f5f5f5"/>
<path d="M435.0,197.0 C436.3,195.0 441.0,194.0 443.0,195.0 C445.0,196.0 447.3,200.3 447.0,203.0 C446.7,205.7 443.0,210.3 441.0,211.0 C439.0,211.7 436.0,209.3 435.0,207.0 C434.0,204.7 433.7,199.0 435.0,197.0Z" fill="#f5f5f5"/>
<path d="M414.0,181.0 C415.3,179.0 421.2,176.0 423.0,177.0 C424.8,178.0 426.3,185.0 425.0,187.0 C423.7,189.0 416.8,190.0 415.0,189.0 C413.2,188.0 412.7,183.0 414.0,181.0Z" fill="#f5f5f5"/>
<path d="M383.0,173.0 C384.0,171.0 391.0,170.0 393.0,171.0 C395.0,172.0 396.0,177.0 395.0,179.0 C394.0,181.0 389.0,184.0 387.0,183.0 C385.0,182.0 382.0,175.0 383.0,173.0Z" fill="#f5f5f5"/>
<path d="M337.0,201.0 C337.7,199.5 341.7,198.3 343.0,199.0 C344.3,199.7 345.7,203.5 345.0,205.0 C344.3,206.5 340.3,208.7 339.0,208.0 C337.7,207.3 336.3,202.5 337.0,201.0Z" fill="#f5f5f5"/>
<path d="M491.0,177.0 C492.7,175.8 500.7,176.3 505.0,176.0 C509.3,175.7 514.7,173.5 517.0,175.0 C519.3,176.5 519.7,182.3 519.0,185.0 C518.3,187.7 515.3,191.0 513.0,191.0 C510.7,191.0 508.0,186.3 505.0,185.0 C502.0,183.7 497.3,184.3 495.0,183.0 C492.7,181.7 489.3,178.2 491.0,177.0Z" fill="#f5f5f5"/>
<path d="M485.0,199.0 C487.0,197.7 493.7,196.3 497.0,197.0 C500.3,197.7 505.3,201.3 505.0,203.0 C504.7,204.7 498.3,206.7 495.0,207.0 C491.7,207.3 486.7,206.3 485.0,205.0 C483.3,203.7 483.0,200.3 485.0,199.0Z" fill="#f5f5f5"/>
<path d="M464.0,221.0 C465.8,218.3 472.5,221.3 475.0,223.0 C477.5,224.7 479.3,228.3 479.0,231.0 C478.7,233.7 475.5,237.7 473.0,239.0 C470.5,240.3 465.5,242.0 464.0,239.0 C462.5,236.0 462.2,223.7 464.0,221.0Z" fill="#c7eae5"/>
<path d="M520.0,183.0 C521.5,182.7 525.5,183.8 527.0,185.0 C528.5,186.2 528.3,188.3 529.0,190.0 C529.7,191.7 531.2,192.7 531.0,195.0 C530.8,197.3 529.2,201.5 528.0,204.0 C526.8,206.5 525.5,209.8 524.0,210.0 C522.5,210.2 519.3,206.8 519.0,205.0 C518.7,203.2 521.8,201.0 522.0,199.0 C522.2,197.0 520.7,195.0 520.0,193.0 C519.3,191.0 518.0,188.7 518.0,187.0 C518.0,185.3 518.5,183.3 520.0,183.0Z" fill="#f6e8c3"/>
<path d="M516.0,208.0 C516.7,206.7 518.5,205.3 520.0,207.0 C521.5,208.7 525.2,216.0 525.0,218.0 C524.8,220.0 520.5,219.5 519.0,219.0 C517.5,218.5 516.5,216.8 516.0,215.0 C515.5,213.2 515.3,209.3 516.0,208.0Z" fill="#f6e8c3"/>
<path d="M501.0,227.0 C502.3,225.3 506.2,224.0 508.0,225.0 C509.8,226.0 511.8,230.3 512.0,233.0 C512.2,235.7 510.5,239.3 509.0,241.0 C507.5,242.7 504.5,244.0 503.0,243.0 C501.5,242.0 500.3,237.7 500.0,235.0 C499.7,232.3 499.7,228.7 501.0,227.0Z" fill="#f6e8c3"/>
<path d="M493.0,237.0 C493.7,235.7 497.7,235.2 499.0,236.0 C500.3,236.8 501.7,240.7 501.0,242.0 C500.3,243.3 496.3,244.8 495.0,244.0 C493.7,243.2 492.3,238.3 493.0,237.0Z" fill="#c7eae5"/>
<path d="M483.0,239.0 C483.8,238.2 487.8,237.5 489.0,238.0 C490.2,238.5 490.8,241.2 490.0,242.0 C489.2,242.8 485.2,243.5 484.0,243.0 C482.8,242.5 482.2,239.8 483.0,239.0Z" fill="#f6e8c3"/>
<path d="M471.0,257.0 C472.7,255.8 477.7,253.3 481.0,253.0 C484.3,252.7 487.0,255.3 491.0,255.0 C495.0,254.7 500.7,251.3 505.0,251.0 C509.3,250.7 515.0,251.5 517.0,253.0 C519.0,254.5 524.7,258.8 517.0,260.0 C509.3,261.2 478.7,260.5 471.0,260.0 C463.3,259.5 469.3,258.2 471.0,257.0Z" fill="#c7eae5"/>
<path d="M469.0,249.0 C469.7,247.8 473.0,247.2 474.0,248.0 C475.0,248.8 475.7,252.8 475.0,254.0 C474.3,255.2 471.0,255.8 470.0,255.0 C469.0,254.2 468.3,250.2 469.0,249.0Z" fill="#f6e8c3"/>
<path d="M495.0,165.0 C498.3,163.8 510.0,164.0 515.0,164.0 C520.0,164.0 523.7,163.5 525.0,165.0 C526.3,166.5 526.3,171.5 523.0,173.0 C519.7,174.5 509.7,174.3 505.0,174.0 C500.3,173.7 496.7,172.5 495.0,171.0 C493.3,169.5 491.7,166.2 495.0,165.0Z" fill="#c7eae5"/>
<path d="M529.0,169.0 C533.0,166.3 550.8,163.7 555.0,164.0 C559.2,164.3 555.7,169.2 554.0,171.0 C552.3,172.8 548.8,173.5 545.0,175.0 C541.2,176.5 533.7,181.0 531.0,180.0 C528.3,179.0 525.0,171.7 529.0,169.0Z" fill="#f6e8c3"/>
<path d="M529.0,185.0 C531.7,183.2 543.8,178.0 547.0,177.0 C550.2,176.0 550.7,177.2 548.0,179.0 C545.3,180.8 534.2,187.0 531.0,188.0 C527.8,189.0 526.3,186.8 529.0,185.0Z" fill="#f6e8c3"/>
<path d="M227.0,296.0 C228.3,293.7 234.0,294.2 237.0,293.0 C240.0,291.8 243.5,289.0 245.0,289.0 C246.5,289.0 247.2,291.2 246.0,293.0 C244.8,294.8 239.8,297.8 238.0,300.0 C236.2,302.2 236.5,304.8 235.0,306.0 C233.5,307.2 230.3,308.7 229.0,307.0 C227.7,305.3 225.7,298.3 227.0,296.0Z" fill="#f5f5f5"/>
<path d="M254.0,294.0 C254.8,292.0 258.8,290.7 260.0,292.0 C261.2,293.3 261.8,300.0 261.0,302.0 C260.2,304.0 256.2,305.3 255.0,304.0 C253.8,302.7 253.2,296.0 254.0,294.0Z" fill="#f5f5f5"/>
<path d="M204.0,284.0 C205.0,281.0 208.8,284.0 210.0,286.0 C211.2,288.0 212.0,293.0 211.0,296.0 C210.0,299.0 205.2,306.0 204.0,304.0 C202.8,302.0 203.0,287.0 204.0,284.0Z" fill="#f5f5f5"/>
<path d="M276.0,286.0 C277.7,281.8 282.5,276.3 285.0,275.0 C287.5,273.7 289.8,275.5 291.0,278.0 C292.2,280.5 290.3,287.0 292.0,290.0 C293.7,293.0 297.5,294.3 301.0,296.0 C304.5,297.7 309.0,298.8 313.0,300.0 C317.0,301.2 321.3,302.7 325.0,303.0 C328.7,303.3 333.3,299.5 335.0,302.0 C336.7,304.5 336.7,315.0 335.0,318.0 C333.3,321.0 328.7,318.7 325.0,320.0 C321.3,321.3 316.3,324.3 313.0,326.0 C309.7,327.7 308.0,329.0 305.0,330.0 C302.0,331.0 298.3,332.0 295.0,332.0 C291.7,332.0 287.7,328.7 285.0,330.0 C282.3,331.3 281.3,338.7 279.0,340.0 C276.7,341.3 273.3,337.7 271.0,338.0 C268.7,338.3 267.3,342.3 265.0,342.0 C262.7,341.7 257.8,339.3 257.0,336.0 C256.2,332.7 257.7,325.0 260.0,322.0 C262.3,319.0 268.2,319.7 271.0,318.0 C273.8,316.3 276.3,315.0 277.0,312.0 C277.7,309.0 275.2,304.3 275.0,300.0 C274.8,295.7 274.3,290.2 276.0,286.0Z" fill="#f5f5f5"/>
<path d="M307.0,340.0 C308.7,337.2 314.0,337.0 317.0,337.0 C320.0,337.0 323.3,337.8 325.0,340.0 C326.7,342.2 328.0,347.5 327.0,350.0 C326.0,352.5 322.3,354.3 319.0,355.0 C315.7,355.7 309.0,356.5 307.0,354.0 C305.0,351.5 305.3,342.8 307.0,340.0Z" fill="#f5f5f5"/>
<path d="M346.0,278.0 C347.0,276.2 353.2,275.7 355.0,277.0 C356.8,278.3 358.0,284.2 357.0,286.0 C356.0,287.8 350.8,289.3 349.0,288.0 C347.2,286.7 345.0,279.8 346.0,278.0Z" fill="#f5f5f5"/>
<path d="M385.0,298.0 C387.0,296.7 393.0,297.7 395.0,300.0 C397.0,302.3 398.0,309.7 397.0,312.0 C396.0,314.3 391.3,314.7 389.0,314.0 C386.7,313.3 383.7,310.7 383.0,308.0 C382.3,305.3 383.0,299.3 385.0,298.0Z" fill="#f5f5f5"/>
<path d="M409.0,324.0 C409.7,322.5 413.7,322.0 415.0,323.0 C416.3,324.0 417.7,328.5 417.0,330.0 C416.3,331.5 412.3,333.0 411.0,332.0 C409.7,331.0 408.3,325.5 409.0,324.0Z" fill="#f5f5f5"/>
<path d="M429.0,268.0 C430.7,266.7 438.7,265.3 441.0,266.0 C443.3,266.7 444.7,270.7 443.0,272.0 C441.3,273.3 433.3,274.7 431.0,274.0 C428.7,273.3 427.3,269.3 429.0,268.0Z" fill="#f5f5f5"/>
<path d="M444.0,306.0 C444.8,304.8 448.8,306.3 450.0,308.0 C451.2,309.7 451.8,314.8 451.0,316.0 C450.2,317.2 446.2,316.7 445.0,315.0 C443.8,313.3 443.2,307.2 444.0,306.0Z" fill="#f5f5f5"/>
<path d="M471.0,268.0 C471.7,266.8 476.3,265.2 479.0,265.0 C481.7,264.8 486.0,266.0 487.0,267.0 C488.0,268.0 487.0,270.2 485.0,271.0 C483.0,271.8 477.3,272.5 475.0,272.0 C472.7,271.5 470.3,269.2 471.0,268.0Z" fill="#c7eae5"/>
<path d="M496.0,264.0 C496.8,262.2 499.5,259.2 502.0,258.0 C504.5,256.8 508.5,256.3 511.0,257.0 C513.5,257.7 516.7,260.0 517.0,262.0 C517.3,264.0 515.3,267.7 513.0,269.0 C510.7,270.3 505.7,270.0 503.0,270.0 C500.3,270.0 498.2,270.0 497.0,269.0 C495.8,268.0 495.2,265.8 496.0,264.0Z" fill="#c7eae5"/>
<path d="M471.0,258.0 C471.7,257.3 474.3,256.5 475.0,257.0 C475.7,257.5 475.7,260.3 475.0,261.0 C474.3,261.7 471.7,261.5 471.0,261.0 C470.3,260.5 470.3,258.7 471.0,258.0Z" fill="#c7eae5"/>
<path d="M514.0,249.0 C514.8,248.0 519.2,247.8 520.0,249.0 C520.8,250.2 519.8,255.0 519.0,256.0 C518.2,257.0 515.8,256.2 515.0,255.0 C514.2,253.8 513.2,250.0 514.0,249.0Z" fill="#c7eae5"/>
<path d="M464.0,270.0 C464.8,269.2 468.3,270.0 469.0,271.0 C469.7,272.0 468.8,275.2 468.0,276.0 C467.2,276.8 464.7,277.0 464.0,276.0 C463.3,275.0 463.2,270.8 464.0,270.0Z" fill="#f6e8c3"/>
<path d="M491.0,271.0 C491.5,270.2 495.3,270.8 498.0,272.0 C500.7,273.2 505.3,276.2 507.0,278.0 C508.7,279.8 508.8,282.3 508.0,283.0 C507.2,283.7 504.2,283.0 502.0,282.0 C499.8,281.0 496.8,278.8 495.0,277.0 C493.2,275.2 490.5,271.8 491.0,271.0Z" fill="#f6e8c3"/>
<path d="M469.0,277.0 C469.8,276.3 473.3,275.5 474.0,276.0 C474.7,276.5 473.8,279.3 473.0,280.0 C472.2,280.7 469.7,280.5 469.0,280.0 C468.3,279.5 468.2,277.7 469.0,277.0Z" fill="#f6e8c3"/>
<path d="M482.0,280.0 C482.7,279.3 485.3,279.2 486.0,280.0 C486.7,280.8 486.7,284.3 486.0,285.0 C485.3,285.7 482.7,284.8 482.0,284.0 C481.3,283.2 481.3,280.7 482.0,280.0Z" fill="#c7eae5"/>
<path d="M491.0,289.0 C491.7,287.7 495.8,286.3 497.0,287.0 C498.2,287.7 498.7,291.7 498.0,293.0 C497.3,294.3 494.2,295.7 493.0,295.0 C491.8,294.3 490.3,290.3 491.0,289.0Z" fill="#c7eae5"/>
<path d="M486.0,299.0 C486.8,297.8 490.8,296.5 492.0,297.0 C493.2,297.5 493.8,300.8 493.0,302.0 C492.2,303.2 488.2,304.5 487.0,304.0 C485.8,303.5 485.2,300.2 486.0,299.0Z" fill="#f6e8c3"/>
<path d="M464.0,308.0 C465.2,305.7 468.8,308.3 471.0,310.0 C473.2,311.7 476.2,315.3 477.0,318.0 C477.8,320.7 477.3,324.5 476.0,326.0 C474.7,327.5 471.0,327.3 469.0,327.0 C467.0,326.7 464.8,327.2 464.0,324.0 C463.2,320.8 462.8,310.3 464.0,308.0Z" fill="#c7eae5"/>
<path d="M477.0,312.0 C477.6,311.0 480.3,309.3 481.0,310.0 C481.7,310.7 481.6,315.0 481.0,316.0 C480.4,317.0 478.1,316.7 477.4,316.0 C476.7,315.3 476.4,313.0 477.0,312.0Z" fill="#f6e8c3"/>
<path d="M464.0,334.0 C466.2,331.5 474.2,329.3 477.0,330.0 C479.8,330.7 479.7,335.5 481.0,338.0 C482.3,340.5 487.8,343.8 485.0,345.0 C482.2,346.2 467.5,346.8 464.0,345.0 C460.5,343.2 461.8,336.5 464.0,334.0Z" fill="#f6e8c3"/>
<path d="M272.0,355.0 C272.0,351.7 277.3,346.0 280.0,345.0 C282.7,344.0 285.7,347.0 288.0,349.0 C290.3,351.0 291.7,355.3 294.0,357.0 C296.3,358.7 299.0,360.3 302.0,359.0 C305.0,357.7 309.0,350.0 312.0,349.0 C315.0,348.0 317.0,351.8 320.0,353.0 C323.0,354.2 329.0,354.0 330.0,356.0 C331.0,358.0 329.0,363.7 326.0,365.0 C323.0,366.3 315.3,363.0 312.0,364.0 C308.7,365.0 307.2,367.8 306.0,371.0 C304.8,374.2 306.3,380.0 305.0,383.0 C303.7,386.0 300.5,388.7 298.0,389.0 C295.5,389.3 292.3,387.3 290.0,385.0 C287.7,382.7 285.7,378.3 284.0,375.0 C282.3,371.7 282.0,368.3 280.0,365.0 C278.0,361.7 272.0,358.3 272.0,355.0Z" fill="#f5f5f5"/>
<path d="M346.0,329.0 C348.0,327.0 353.7,328.7 356.0,331.0 C358.3,333.3 360.3,339.3 360.0,343.0 C359.7,346.7 356.0,351.7 354.0,353.0 C352.0,354.3 348.7,352.3 348.0,351.0 C347.3,349.7 350.7,346.3 350.0,345.0 C349.3,343.7 344.7,345.7 344.0,343.0 C343.3,340.3 344.0,331.0 346.0,329.0Z" fill="#f5f5f5"/>
<path d="M464.0,332.0 C465.5,330.3 469.3,328.7 472.0,328.0 C474.7,327.3 476.7,324.0 480.0,328.0 C483.3,332.0 488.7,345.0 492.0,352.0 C495.3,359.0 498.0,365.0 500.0,370.0 C502.0,375.0 503.5,377.7 504.0,382.0 C504.5,386.3 504.3,393.2 503.0,396.0 C501.7,398.8 498.0,400.0 496.0,399.0 C494.0,398.0 492.3,392.2 491.0,390.0 C489.7,387.8 489.3,388.0 488.0,386.0 C486.7,384.0 484.7,380.7 483.0,378.0 C481.3,375.3 479.5,372.7 478.0,370.0 C476.5,367.3 475.3,364.7 474.0,362.0 C472.7,359.3 471.5,356.7 470.0,354.0 C468.5,351.3 466.2,348.7 465.0,346.0 C463.8,343.3 463.2,340.3 463.0,338.0 C462.8,335.7 462.5,333.7 464.0,332.0Z" fill="#f6e8c3"/>
<path d="M440.0,336.0 C441.3,334.3 444.8,334.2 448.0,334.0 C451.2,333.8 457.0,334.0 459.0,335.0 C461.0,336.0 461.2,338.8 460.0,340.0 C458.8,341.2 454.7,341.0 452.0,342.0 C449.3,343.0 446.0,345.7 444.0,346.0 C442.0,346.3 440.7,345.7 440.0,344.0 C439.3,342.3 438.7,337.7 440.0,336.0Z" fill="#c7eae5"/>
<path d="M378.0,135.0 C377.7,133.8 383.8,131.7 386.0,130.5 C388.2,129.3 389.5,128.5 391.0,128.0 C392.5,127.5 393.3,127.1 395.0,127.5 C396.7,127.9 399.0,129.6 401.0,130.5 C403.0,131.4 405.2,132.8 407.0,133.0 C408.8,133.2 410.8,130.5 412.0,131.5 C413.2,132.5 414.5,137.2 414.0,139.0 C413.5,140.8 410.8,140.2 409.0,142.0 C407.2,143.8 404.5,149.3 403.0,150.0 C401.5,150.7 401.2,147.4 400.0,146.0 C398.8,144.6 398.0,142.8 396.0,141.5 C394.0,140.2 391.0,139.1 388.0,138.0 C385.0,136.9 378.3,136.2 378.0,135.0Z" fill="#c7eae5"/>
<path d="M120.0,75.0 C128.2,75.8 160.5,83.5 169.0,87.0 C177.5,90.5 170.0,92.5 171.0,96.0 C172.0,99.5 173.8,104.0 175.0,108.0 C176.2,112.0 178.0,116.7 178.0,120.0 C178.0,123.3 176.2,125.3 175.0,128.0 C173.8,130.7 172.5,134.0 171.0,136.0 C169.5,138.0 167.7,139.7 166.0,140.0 C164.3,140.3 162.3,139.7 161.0,138.0 C159.7,136.3 158.7,132.3 158.0,130.0 C157.3,127.7 157.5,124.7 157.0,124.0 C156.5,123.3 155.7,124.0 155.0,126.0 C154.3,128.0 154.0,132.7 153.0,136.0 C152.0,139.3 150.3,142.3 149.0,146.0 C147.7,149.7 146.2,156.3 145.0,158.0 C143.8,159.7 142.7,158.0 142.0,156.0 C141.3,154.0 141.8,148.7 141.0,146.0 C140.2,143.3 138.3,141.7 137.0,140.0 C135.7,138.3 133.3,137.7 133.0,136.0 C132.7,134.3 135.7,131.3 135.0,130.0 C134.3,128.7 130.7,127.3 129.0,128.0 C127.3,128.7 126.3,132.7 125.0,134.0 C123.7,135.3 122.2,136.3 121.0,136.0 C119.8,135.7 119.2,133.0 118.0,132.0 C116.8,131.0 114.8,131.3 114.0,130.0 C113.2,128.7 112.5,125.7 113.0,124.0 C113.5,122.3 116.7,121.8 117.0,120.0 C117.3,118.2 115.8,115.0 115.0,113.0 C114.2,111.0 111.5,109.7 112.0,108.0 C112.5,106.3 116.2,104.7 118.0,103.0 C119.8,101.3 121.8,100.2 123.0,98.0 C124.2,95.8 125.2,91.8 125.0,90.0 C124.8,88.2 122.8,88.3 122.0,87.0 C121.2,85.7 120.3,84.0 120.0,82.0 C119.7,80.0 111.8,74.2 120.0,75.0Z" fill="#d8b365"/>
<path d="M102.0,82.0 C102.8,80.7 105.7,82.7 107.0,84.0 C108.3,85.3 109.7,88.0 110.0,90.0 C110.3,92.0 109.8,94.8 109.0,96.0 C108.2,97.2 106.2,97.7 105.0,97.0 C103.8,96.3 102.5,94.5 102.0,92.0 C101.5,89.5 101.2,83.3 102.0,82.0Z" fill="#d8b365"/>
<path d="M83.0,146.0 C84.7,144.8 90.7,142.8 93.0,143.0 C95.3,143.2 97.3,145.5 97.0,147.0 C96.7,148.5 93.0,150.8 91.0,152.0 C89.0,153.2 86.3,154.3 85.0,154.0 C83.7,153.7 83.3,151.3 83.0,150.0 C82.7,148.7 81.3,147.2 83.0,146.0Z" fill="#d8b365"/>
<path d="M108.0,158.0 C108.7,156.7 112.7,156.2 114.0,157.0 C115.3,157.8 116.7,161.7 116.0,163.0 C115.3,164.3 111.3,165.8 110.0,165.0 C108.7,164.2 107.3,159.3 108.0,158.0Z" fill="#d8b365"/>
<path d="M150.0,146.0 C151.2,142.3 154.8,137.0 157.0,136.0 C159.2,135.0 162.3,137.7 163.0,140.0 C163.7,142.3 162.3,147.0 161.0,150.0 C159.7,153.0 156.8,156.7 155.0,158.0 C153.2,159.3 150.8,160.0 150.0,158.0 C149.2,156.0 148.8,149.7 150.0,146.0Z" fill="#d8b365"/>
<path d="M187.0,134.0 C187.5,132.8 191.7,131.5 193.0,132.0 C194.3,132.5 195.5,135.8 195.0,137.0 C194.5,138.2 191.3,139.5 190.0,139.0 C188.7,138.5 186.5,135.2 187.0,134.0Z" fill="#d8b365"/>
<path d="M200.0,128.0 C201.3,126.2 204.2,123.0 205.0,125.0 C205.8,127.0 206.2,137.3 205.0,140.0 C203.8,142.7 199.3,141.7 198.0,141.0 C196.7,140.3 196.7,138.2 197.0,136.0 C197.3,133.8 198.7,129.8 200.0,128.0Z" fill="#d8b365"/>
<path d="M228.0,98.6 C228.7,98.2 232.3,98.9 233.0,99.6 C233.7,100.3 232.7,102.6 232.0,103.0 C231.3,103.4 229.3,102.7 228.6,102.0 C227.9,101.3 227.3,99.0 228.0,98.6Z" fill="#d8b365"/>
<path d="M259.4,102.6 C260.6,101.1 264.5,101.4 265.4,103.0 C266.3,104.6 266.2,110.9 265.0,112.4 C263.8,113.9 258.9,113.6 258.0,112.0 C257.1,110.4 258.2,104.1 259.4,102.6Z" fill="#d8b365"/>
<path d="M214.0,127.0 C215.2,125.7 218.3,123.5 220.0,124.0 C221.7,124.5 224.2,128.0 224.0,130.0 C223.8,132.0 220.7,134.8 219.0,136.0 C217.3,137.2 215.1,137.7 214.0,137.0 C212.9,136.3 212.6,133.7 212.6,132.0 C212.6,130.3 212.8,128.3 214.0,127.0Z" fill="#c7eae5"/>
<path d="M266.0,103.6 C269.8,102.3 281.8,104.6 289.0,105.2 C296.2,105.8 306.7,105.2 309.4,107.0 C312.1,108.8 307.4,113.2 305.0,116.0 C302.6,118.8 298.3,122.0 295.0,124.0 C291.7,126.0 287.3,128.2 285.0,128.0 C282.7,127.8 282.2,124.8 281.0,123.0 C279.8,121.2 279.7,118.3 278.0,117.0 C276.3,115.7 273.0,115.7 271.0,115.0 C269.0,114.3 266.8,114.9 266.0,113.0 C265.2,111.1 262.2,104.9 266.0,103.6Z" fill="#d8b365"/>
<path d="M306.0,143.0 C306.8,140.5 311.2,139.3 314.0,139.0 C316.8,138.7 319.5,141.0 323.0,141.0 C326.5,141.0 333.0,135.0 335.0,139.0 C337.0,143.0 338.7,160.7 335.0,165.0 C331.3,169.3 317.3,166.8 313.0,165.0 C308.7,163.2 310.2,157.7 309.0,154.0 C307.8,150.3 305.2,145.5 306.0,143.0Z" fill="#c7eae5"/>
<path d="M205.0,152.0 C205.7,151.0 208.5,152.7 209.0,154.0 C209.5,155.3 208.7,159.0 208.0,160.0 C207.3,161.0 205.5,161.3 205.0,160.0 C204.5,158.7 204.3,153.0 205.0,152.0Z" fill="#d8b365"/>
<path d="M337.4,115.0 C338.1,114.0 340.7,112.9 342.0,113.0 C343.3,113.1 344.8,114.6 345.0,115.6 C345.2,116.6 344.2,118.4 343.0,119.0 C341.8,119.6 338.9,119.7 338.0,119.0 C337.1,118.3 336.7,116.0 337.4,115.0Z" fill="#d8b365"/>
<path d="M357.6,143.0 C357.6,143.7 357.1,144.5 356.5,145.0 C355.9,145.4 354.8,145.8 354.0,145.8 C353.2,145.8 352.1,145.4 351.5,145.0 C350.9,144.5 350.4,143.7 350.4,143.0 C350.4,142.3 350.9,141.5 351.5,141.0 C352.1,140.6 353.2,140.2 354.0,140.2 C354.8,140.2 355.9,140.6 356.5,141.0 C357.1,141.5 357.6,142.3 357.6,143.0Z" fill="#f5f5f5"/>
<path d="M535.4,136.4 C535.4,136.8 535.2,137.3 535.0,137.5 C534.8,137.8 534.5,138.0 534.2,138.0 C533.9,138.0 533.6,137.8 533.4,137.5 C533.2,137.3 533.0,136.8 533.0,136.4 C533.0,136.0 533.2,135.5 533.4,135.3 C533.6,135.0 533.9,134.8 534.2,134.8 C534.5,134.8 534.8,135.0 535.0,135.3 C535.2,135.5 535.4,136.0 535.4,136.4Z" fill="#d8b365"/>
<path d="M540.0,161.4 C541.5,160.2 547.2,157.4 549.0,158.0 C550.8,158.6 552.1,163.8 550.6,165.0 C549.1,166.2 541.8,165.6 540.0,165.0 C538.2,164.4 538.5,162.6 540.0,161.4Z" fill="#d8b365"/>
<path d="M75.0,169.0 C77.5,166.8 84.0,164.7 91.0,164.0 C98.0,163.3 113.0,162.8 117.0,165.0 C121.0,167.2 116.7,174.0 115.0,177.0 C113.3,180.0 108.7,180.7 107.0,183.0 C105.3,185.3 106.7,189.3 105.0,191.0 C103.3,192.7 98.7,195.0 97.0,193.0 C95.3,191.0 96.7,180.7 95.0,179.0 C93.3,177.3 89.7,181.7 87.0,183.0 C84.3,184.3 80.8,188.0 79.0,187.0 C77.2,186.0 76.7,180.0 76.0,177.0 C75.3,174.0 72.5,171.2 75.0,169.0Z" fill="#d8b365"/>
<path d="M122.0,183.0 C122.5,180.8 124.8,178.3 127.0,178.0 C129.2,177.7 133.0,179.5 135.0,181.0 C137.0,182.5 139.0,184.7 139.0,187.0 C139.0,189.3 136.8,193.3 135.0,195.0 C133.2,196.7 129.8,197.7 128.0,197.0 C126.2,196.3 125.0,193.3 124.0,191.0 C123.0,188.7 121.5,185.2 122.0,183.0Z" fill="#d8b365"/>
<path d="M145.0,180.0 C146.8,178.0 151.0,175.2 155.0,175.0 C159.0,174.8 166.3,177.3 169.0,179.0 C171.7,180.7 169.3,184.3 171.0,185.0 C172.7,185.7 176.3,183.8 179.0,183.0 C181.7,182.2 184.3,179.7 187.0,180.0 C189.7,180.3 192.0,184.5 195.0,185.0 C198.0,185.5 203.3,178.7 205.0,183.0 C206.7,187.3 206.7,207.3 205.0,211.0 C203.3,214.7 198.0,205.7 195.0,205.0 C192.0,204.3 188.8,205.8 187.0,207.0 C185.2,208.2 186.0,211.0 184.0,212.0 C182.0,213.0 177.5,213.5 175.0,213.0 C172.5,212.5 170.8,209.5 169.0,209.0 C167.2,208.5 165.7,211.0 164.0,210.0 C162.3,209.0 161.2,204.3 159.0,203.0 C156.8,201.7 153.5,203.0 151.0,202.0 C148.5,201.0 145.2,199.5 144.0,197.0 C142.8,194.5 143.8,189.8 144.0,187.0 C144.2,184.2 143.2,182.0 145.0,180.0Z" fill="#d8b365"/>
<path d="M183.0,215.0 C184.2,213.8 188.5,212.7 191.0,213.0 C193.5,213.3 197.7,215.7 198.0,217.0 C198.3,218.3 195.3,220.5 193.0,221.0 C190.7,221.5 185.7,221.0 184.0,220.0 C182.3,219.0 181.8,216.2 183.0,215.0Z" fill="#d8b365"/>
<path d="M159.0,164.0 C161.0,162.8 170.3,164.5 173.0,166.0 C175.7,167.5 175.7,171.2 175.0,173.0 C174.3,174.8 171.3,177.0 169.0,177.0 C166.7,177.0 162.7,175.2 161.0,173.0 C159.3,170.8 157.0,165.2 159.0,164.0Z" fill="#d8b365"/>
<path d="M168.4,242.0 C168.4,242.6 168.1,243.3 167.7,243.7 C167.3,244.1 166.6,244.4 166.0,244.4 C165.4,244.4 164.7,244.1 164.3,243.7 C163.9,243.3 163.6,242.6 163.6,242.0 C163.6,241.4 163.9,240.7 164.3,240.3 C164.7,239.9 165.4,239.6 166.0,239.6 C166.6,239.6 167.3,239.9 167.7,240.3 C168.1,240.7 168.4,241.4 168.4,242.0Z" fill="#f5f5f5"/>
<path d="M204.0,164.0 C205.0,161.8 210.0,162.2 211.0,164.0 C212.0,165.8 211.0,172.8 210.0,175.0 C209.0,177.2 206.0,178.8 205.0,177.0 C204.0,175.2 203.0,166.2 204.0,164.0Z" fill="#d8b365"/>
<path d="M204.0,203.0 C205.5,200.8 210.8,199.7 213.0,200.0 C215.2,200.3 217.0,203.0 217.0,205.0 C217.0,207.0 215.2,210.7 213.0,212.0 C210.8,213.3 205.5,214.5 204.0,213.0 C202.5,211.5 202.5,205.2 204.0,203.0Z" fill="#d8b365"/>
<path d="M237.4,213.0 C237.4,213.6 237.1,214.3 236.7,214.7 C236.3,215.1 235.6,215.4 235.0,215.4 C234.4,215.4 233.7,215.1 233.3,214.7 C232.9,214.3 232.6,213.6 232.6,213.0 C232.6,212.4 232.9,211.7 233.3,211.3 C233.7,210.9 234.4,210.6 235.0,210.6 C235.6,210.6 236.3,210.9 236.7,211.3 C237.1,211.7 237.4,212.4 237.4,213.0Z" fill="#f5f5f5"/>
<path d="M243.0,213.0 C243.0,213.5 242.7,214.1 242.4,214.4 C242.1,214.7 241.5,215.0 241.0,215.0 C240.5,215.0 239.9,214.7 239.6,214.4 C239.3,214.1 239.0,213.5 239.0,213.0 C239.0,212.5 239.3,211.9 239.6,211.6 C239.9,211.3 240.5,211.0 241.0,211.0 C241.5,211.0 242.1,211.3 242.4,211.6 C242.7,211.9 243.0,212.5 243.0,213.0Z" fill="#f5f5f5"/>
<path d="M301.0,223.0 C302.3,221.8 310.3,221.3 313.0,222.0 C315.7,222.7 318.3,225.8 317.0,227.0 C315.7,228.2 307.7,229.7 305.0,229.0 C302.3,228.3 299.7,224.2 301.0,223.0Z" fill="#f5f5f5"/>
<path d="M287.0,235.0 C288.2,234.2 292.3,233.5 294.0,234.0 C295.7,234.5 297.5,236.8 297.0,238.0 C296.5,239.2 292.7,240.8 291.0,241.0 C289.3,241.2 287.7,240.0 287.0,239.0 C286.3,238.0 285.8,235.8 287.0,235.0Z" fill="#f6e8c3"/>
<path d="M314.0,231.0 C314.5,230.0 317.2,228.5 318.0,229.0 C318.8,229.5 319.5,233.0 319.0,234.0 C318.5,235.0 315.8,235.5 315.0,235.0 C314.2,234.5 313.5,232.0 314.0,231.0Z" fill="#f6e8c3"/>
<path d="M277.0,231.0 C277.0,229.7 282.3,225.3 285.0,225.0 C287.7,224.7 293.0,227.7 293.0,229.0 C293.0,230.3 287.7,232.7 285.0,233.0 C282.3,233.3 277.0,232.3 277.0,231.0Z" fill="#f5f5f5"/>
<path d="M367.0,193.0 C368.3,192.0 372.7,191.2 374.0,192.0 C375.3,192.8 375.8,196.5 375.0,198.0 C374.2,199.5 370.5,201.0 369.0,201.0 C367.5,201.0 366.3,199.3 366.0,198.0 C365.7,196.7 365.7,194.0 367.0,193.0Z" fill="#f6e8c3"/>
<path d="M393.0,191.0 C393.8,189.7 397.3,188.3 399.0,189.0 C400.7,189.7 403.0,193.3 403.0,195.0 C403.0,196.7 400.5,198.7 399.0,199.0 C397.5,199.3 395.0,198.3 394.0,197.0 C393.0,195.7 392.2,192.3 393.0,191.0Z" fill="#f6e8c3"/>
<path d="M398.0,214.0 C398.7,212.8 402.0,212.2 403.0,213.0 C404.0,213.8 404.7,217.8 404.0,219.0 C403.3,220.2 400.0,220.8 399.0,220.0 C398.0,219.2 397.3,215.2 398.0,214.0Z" fill="#f6e8c3"/>
<path d="M385.0,227.0 C386.2,225.2 390.5,223.5 393.0,223.0 C395.5,222.5 399.0,222.3 400.0,224.0 C401.0,225.7 400.3,230.8 399.0,233.0 C397.7,235.2 394.2,236.8 392.0,237.0 C389.8,237.2 387.2,235.7 386.0,234.0 C384.8,232.3 383.8,228.8 385.0,227.0Z" fill="#f6e8c3"/>
<path d="M386.0,239.0 C386.2,238.3 389.5,237.5 390.0,238.0 C390.5,238.5 389.7,241.8 389.0,242.0 C388.3,242.2 385.8,239.7 386.0,239.0Z" fill="#f6e8c3"/>
<path d="M388.0,205.0 C388.7,204.2 392.0,203.5 393.0,204.0 C394.0,204.5 394.7,207.2 394.0,208.0 C393.3,208.8 390.0,209.5 389.0,209.0 C388.0,208.5 387.3,205.8 388.0,205.0Z" fill="#c7eae5"/>
<path d="M359.0,224.0 C359.7,223.0 363.0,222.3 364.0,223.0 C365.0,223.7 365.7,227.0 365.0,228.0 C364.3,229.0 361.0,229.7 360.0,229.0 C359.0,228.3 358.3,225.0 359.0,224.0Z" fill="#f6e8c3"/>
<path d="M440.0,203.0 C440.7,201.8 444.2,201.0 445.0,202.0 C445.8,203.0 445.7,207.8 445.0,209.0 C444.3,210.2 441.8,210.0 441.0,209.0 C440.2,208.0 439.3,204.2 440.0,203.0Z" fill="#f6e8c3"/>
<path d="M415.0,169.0 C416.2,166.5 421.2,164.0 423.0,164.0 C424.8,164.0 426.3,166.8 426.0,169.0 C425.7,171.2 422.7,175.3 421.0,177.0 C419.3,178.7 417.0,180.3 416.0,179.0 C415.0,177.7 413.8,171.5 415.0,169.0Z" fill="#f6e8c3"/>
<path d="M532.0,173.0 C533.3,171.7 538.2,170.8 541.0,170.0 C543.8,169.2 547.5,167.7 549.0,168.0 C550.5,168.3 551.2,170.8 550.0,172.0 C548.8,173.2 544.8,174.0 542.0,175.0 C539.2,176.0 534.7,178.3 533.0,178.0 C531.3,177.7 530.7,174.3 532.0,173.0Z" fill="#d8b365"/>
<path d="M190.0,284.0 C191.0,282.2 193.3,280.0 195.0,279.0 C196.7,278.0 199.0,276.2 200.0,278.0 C201.0,279.8 201.5,286.8 201.0,290.0 C200.5,293.2 198.7,296.0 197.0,297.0 C195.3,298.0 192.3,297.2 191.0,296.0 C189.7,294.8 189.2,292.0 189.0,290.0 C188.8,288.0 189.0,285.8 190.0,284.0Z" fill="#f5f5f5"/>
<path d="M198.0,267.0 C198.7,265.7 202.2,264.7 203.0,266.0 C203.8,267.3 203.7,273.7 203.0,275.0 C202.3,276.3 199.8,275.3 199.0,274.0 C198.2,272.7 197.3,268.3 198.0,267.0Z" fill="#f5f5f5"/>
<path d="M283.0,307.0 C284.3,305.5 290.0,304.2 293.0,304.0 C296.0,303.8 299.2,304.3 301.0,306.0 C302.8,307.7 305.0,312.2 304.0,314.0 C303.0,315.8 298.2,317.2 295.0,317.0 C291.8,316.8 287.0,314.7 285.0,313.0 C283.0,311.3 281.7,308.5 283.0,307.0Z" fill="#c7eae5"/>
<path d="M301.0,288.0 C302.0,286.5 307.3,286.7 309.0,288.0 C310.7,289.3 312.0,294.5 311.0,296.0 C310.0,297.5 304.7,298.3 303.0,297.0 C301.3,295.7 300.0,289.5 301.0,288.0Z" fill="#c7eae5"/>
<path d="M262.0,345.0 C262.8,342.5 265.2,340.8 267.0,340.0 C268.8,339.2 271.2,338.7 273.0,340.0 C274.8,341.3 277.0,345.5 278.0,348.0 C279.0,350.5 281.7,353.8 279.0,355.0 C276.3,356.2 264.8,356.7 262.0,355.0 C259.2,353.3 261.2,347.5 262.0,345.0Z" fill="#f6e8c3"/>
<path d="M356.0,299.0 C357.0,297.8 363.2,297.3 365.0,298.0 C366.8,298.7 368.0,301.8 367.0,303.0 C366.0,304.2 360.8,305.7 359.0,305.0 C357.2,304.3 355.0,300.2 356.0,299.0Z" fill="#f6e8c3"/>
<path d="M375.0,305.0 C376.2,303.7 381.5,301.3 383.0,302.0 C384.5,302.7 385.2,307.7 384.0,309.0 C382.8,310.3 377.5,310.7 376.0,310.0 C374.5,309.3 373.8,306.3 375.0,305.0Z" fill="#f6e8c3"/>
<path d="M380.0,329.0 C380.8,327.7 385.7,326.8 388.0,327.0 C390.3,327.2 393.2,328.7 394.0,330.0 C394.8,331.3 394.8,334.2 393.0,335.0 C391.2,335.8 385.2,336.0 383.0,335.0 C380.8,334.0 379.2,330.3 380.0,329.0Z" fill="#f6e8c3"/>
<path d="M442.0,262.0 C442.8,260.5 447.7,259.3 449.0,260.0 C450.3,260.7 450.8,264.5 450.0,266.0 C449.2,267.5 445.3,269.7 444.0,269.0 C442.7,268.3 441.2,263.5 442.0,262.0Z" fill="#f6e8c3"/>
<path d="M439.0,288.0 C439.7,287.2 443.2,286.5 444.0,287.0 C444.8,287.5 444.7,290.2 444.0,291.0 C443.3,291.8 440.8,292.5 440.0,292.0 C439.2,291.5 438.3,288.8 439.0,288.0Z" fill="#f6e8c3"/>
<path d="M455.0,270.0 C456.3,267.7 463.3,264.0 465.0,266.0 C466.7,268.0 466.3,279.7 465.0,282.0 C463.7,284.3 458.7,282.0 457.0,280.0 C455.3,278.0 453.7,272.3 455.0,270.0Z" fill="#f6e8c3"/>
<path d="M286.0,363.0 C287.3,361.0 291.2,358.7 293.0,359.0 C294.8,359.3 296.7,362.3 297.0,365.0 C297.3,367.7 296.5,373.0 295.0,375.0 C293.5,377.0 289.7,377.7 288.0,377.0 C286.3,376.3 285.3,373.3 285.0,371.0 C284.7,368.7 284.7,365.0 286.0,363.0Z" fill="#c7eae5"/>
<path d="M306.0,371.0 C307.0,368.3 309.0,365.5 312.0,365.0 C315.0,364.5 321.7,366.3 324.0,368.0 C326.3,369.7 327.0,373.5 326.0,375.0 C325.0,376.5 320.3,375.3 318.0,377.0 C315.7,378.7 314.0,384.3 312.0,385.0 C310.0,385.7 307.0,383.3 306.0,381.0 C305.0,378.7 305.0,373.7 306.0,371.0Z" fill="#c7eae5"/>
<path d="M298.0,391.0 C299.0,389.7 303.7,388.7 306.0,389.0 C308.3,389.3 311.3,391.2 312.0,393.0 C312.7,394.8 312.0,399.3 310.0,400.0 C308.0,400.7 302.0,398.5 300.0,397.0 C298.0,395.5 297.0,392.3 298.0,391.0Z" fill="#c7eae5"/>
<path d="M320.0,337.0 C323.3,335.8 332.7,337.5 336.0,338.0 C339.3,338.5 338.7,338.8 340.0,340.0 C341.3,341.2 343.2,343.5 344.0,345.0 C344.8,346.5 345.7,347.7 345.0,349.0 C344.3,350.3 342.5,352.0 340.0,353.0 C337.5,354.0 333.3,355.3 330.0,355.0 C326.7,354.7 322.3,352.7 320.0,351.0 C317.7,349.3 316.0,347.3 316.0,345.0 C316.0,342.7 316.7,338.2 320.0,337.0Z" fill="#c7eae5"/>
<path d="M278.0,355.0 C277.7,354.7 282.0,354.7 286.0,355.0 C290.0,355.3 298.7,358.0 302.0,357.0 C305.3,356.0 304.3,351.0 306.0,349.0 C307.7,347.0 310.7,344.0 312.0,345.0 C313.3,346.0 315.7,352.5 314.0,355.0 C312.3,357.5 306.3,359.7 302.0,360.0 C297.7,360.3 292.0,357.8 288.0,357.0 C284.0,356.2 278.3,355.3 278.0,355.0Z" fill="#c7eae5"/>
<path d="M368.0,339.0 C369.5,337.0 375.7,336.0 378.0,337.0 C380.3,338.0 382.3,342.7 382.0,345.0 C381.7,347.3 378.2,350.3 376.0,351.0 C373.8,351.7 370.3,351.0 369.0,349.0 C367.7,347.0 366.5,341.0 368.0,339.0Z" fill="#c7eae5"/>
<path d="M262.0,347.0 C262.2,345.5 265.2,342.2 267.0,341.0 C268.8,339.8 271.3,339.0 273.0,340.0 C274.7,341.0 276.0,344.7 277.0,347.0 C278.0,349.3 279.8,353.3 279.0,354.0 C278.2,354.7 274.2,351.7 272.0,351.0 C269.8,350.3 267.7,350.7 266.0,350.0 C264.3,349.3 261.8,348.5 262.0,347.0Z" fill="#f6e8c3"/>
<path d="M295.0,382.0 C295.7,381.5 298.3,380.7 299.0,381.0 C299.7,381.3 299.7,383.5 299.0,384.0 C298.3,384.5 295.7,384.3 295.0,384.0 C294.3,383.7 294.3,382.5 295.0,382.0Z" fill="#f6e8c3"/>
<path d="M380.0,328.0 C381.5,326.7 388.3,325.8 390.0,327.0 C391.7,328.2 391.5,333.7 390.0,335.0 C388.5,336.3 382.7,336.2 381.0,335.0 C379.3,333.8 378.5,329.3 380.0,328.0Z" fill="#f6e8c3"/>
<path d="M470.0,353.0 C470.7,352.2 473.0,351.3 474.0,352.0 C475.0,352.7 476.2,355.8 476.0,357.0 C475.8,358.2 474.0,359.0 473.0,359.0 C472.0,359.0 470.5,358.0 470.0,357.0 C469.5,356.0 469.3,353.8 470.0,353.0Z" fill="#d8b365"/>
<path d="M498.0,381.6 C498.0,381.8 497.7,382.1 497.4,382.3 C497.1,382.5 496.5,382.6 496.0,382.6 C495.5,382.6 494.9,382.5 494.6,382.3 C494.3,382.1 494.0,381.8 494.0,381.6 C494.0,381.4 494.3,381.1 494.6,380.9 C494.9,380.7 495.5,380.6 496.0,380.6 C496.5,380.6 497.1,380.7 497.4,380.9 C497.7,381.1 498.0,381.4 498.0,381.6Z" fill="#d8b365"/>
<path d="M473.0,369.0 C474.0,368.8 478.3,371.5 480.0,373.0 C481.7,374.5 483.3,377.3 483.0,378.0 C482.7,378.7 479.5,377.7 478.0,377.0 C476.5,376.3 474.8,375.3 474.0,374.0 C473.2,372.7 472.0,369.2 473.0,369.0Z" fill="#c7eae5"/>
<path d="M481.0,378.0 C481.8,378.2 486.3,384.0 488.0,386.0 C489.7,388.0 490.8,389.0 491.0,390.0 C491.2,391.0 490.3,392.8 489.0,392.0 C487.7,391.2 484.3,387.3 483.0,385.0 C481.7,382.7 480.2,377.8 481.0,378.0Z" fill="#f5f5f5"/>
<path d="M478.0,354.0 C478.5,353.2 480.5,353.2 481.0,354.0 C481.5,354.8 481.5,358.2 481.0,359.0 C480.5,359.8 478.5,359.8 478.0,359.0 C477.5,358.2 477.5,354.8 478.0,354.0Z" fill="#f5f5f5"/>
<path d="M335.5,155.0 C336.8,153.3 341.8,155.4 343.0,157.5 C344.2,159.6 344.2,165.8 343.0,167.5 C341.8,169.2 336.8,169.6 335.5,167.5 C334.2,165.4 334.2,156.7 335.5,155.0Z" fill="#f5f5f5"/>
<path d="M220.0,166.2 C220.0,166.8 219.7,167.6 219.3,168.0 C218.9,168.4 218.1,168.8 217.5,168.8 C216.9,168.8 216.1,168.4 215.7,168.0 C215.3,167.6 215.0,166.8 215.0,166.2 C215.0,165.7 215.3,164.9 215.7,164.5 C216.1,164.1 216.9,163.8 217.5,163.8 C218.1,163.8 218.9,164.1 219.3,164.5 C219.7,164.9 220.0,165.7 220.0,166.2Z" fill="#c7eae5"/>
<path d="M190.0,242.8 C190.8,240.5 197.5,239.2 200.0,240.2 C202.5,241.3 205.8,246.7 205.0,249.0 C204.2,251.3 197.5,255.0 195.0,254.0 C192.5,253.0 189.2,245.0 190.0,242.8Z" fill="#f5f5f5"/>
<path d="M220.0,247.8 C222.1,246.9 230.4,247.8 232.5,249.0 C234.6,250.2 234.6,254.4 232.5,255.2 C230.4,256.1 222.1,255.2 220.0,254.0 C217.9,252.8 217.9,248.6 220.0,247.8Z" fill="#f5f5f5"/>
<path d="M258.0,221.5 C261.5,218.8 271.8,214.8 274.2,220.2 C276.8,225.7 277.4,248.6 273.0,254.0 C268.6,259.4 253.0,254.0 248.0,252.8 C243.0,251.5 242.2,249.2 243.0,246.5 C243.8,243.8 250.5,240.7 253.0,236.5 C255.5,232.3 254.5,224.2 258.0,221.5Z" fill="#f5f5f5"/>
<path d="M276.8,221.5 C278.8,219.4 287.0,224.4 290.5,226.5 C294.0,228.6 298.6,231.3 298.0,234.0 C297.4,236.7 290.1,241.9 286.8,242.8 C283.4,243.6 279.7,242.5 278.0,239.0 C276.3,235.5 274.7,223.6 276.8,221.5Z" fill="#f5f5f5"/>
<path d="M473.5,367.5 C474.8,367.3 478.5,370.4 481.0,372.5 C483.5,374.6 486.2,377.1 488.5,380.0 C490.8,382.9 493.9,387.3 494.8,390.0 C495.6,392.7 494.8,396.2 493.5,396.2 C492.2,396.2 489.5,392.7 487.2,390.0 C485.0,387.3 482.0,382.7 479.8,380.0 C477.5,377.3 474.5,375.8 473.5,373.8 C472.5,371.7 472.2,367.7 473.5,367.5Z" fill="#f5f5f5"/>
<path d="M242.0,349.0 C242.8,347.8 247.8,346.8 251.0,347.0 C254.2,347.2 259.7,348.5 261.0,350.0 C262.3,351.5 260.2,354.5 259.0,356.0 C257.8,357.5 256.2,359.3 254.0,359.0 C251.8,358.7 248.0,355.7 246.0,354.0 C244.0,352.3 241.2,350.2 242.0,349.0Z" fill="#f5f5f5"/>
<path d="M143.8,182.5 C144.4,179.8 145.2,177.5 147.5,176.2 C149.8,175.0 154.2,174.8 157.5,175.0 C160.8,175.2 165.2,176.7 167.5,177.5 C169.8,178.3 168.3,179.4 171.2,180.0 C174.2,180.6 181.0,180.6 185.0,181.2 C189.0,181.9 192.5,182.3 195.0,183.8 C197.5,185.2 198.3,188.3 200.0,190.0 C201.7,191.7 203.1,192.7 205.0,193.8 C206.9,194.8 209.2,195.0 211.2,196.2 C213.3,197.5 216.7,199.4 217.5,201.2 C218.3,203.1 217.9,205.8 216.2,207.5 C214.6,209.2 209.8,211.2 207.5,211.2 C205.2,211.2 204.6,208.5 202.5,207.5 C200.4,206.5 197.1,204.4 195.0,205.0 C192.9,205.6 192.1,210.0 190.0,211.2 C187.9,212.5 185.0,212.9 182.5,212.5 C180.0,212.1 177.3,209.2 175.0,208.8 C172.7,208.3 170.8,210.6 168.8,210.0 C166.7,209.4 164.4,206.5 162.5,205.0 C160.6,203.5 160.0,202.1 157.5,201.2 C155.0,200.4 149.8,201.5 147.5,200.0 C145.2,198.5 144.4,195.4 143.8,192.5 C143.1,189.6 143.1,185.2 143.8,182.5Z" fill="#d8b365"/>
<path d="M121.2,183.8 C121.9,181.7 124.2,178.3 126.2,177.5 C128.3,176.7 131.9,177.5 133.8,178.8 C135.6,180.0 136.2,183.3 137.5,185.0 C138.8,186.7 141.0,187.1 141.2,188.8 C141.5,190.4 140.2,193.3 138.8,195.0 C137.3,196.7 134.6,198.5 132.5,198.8 C130.4,199.0 127.9,197.7 126.2,196.2 C124.6,194.8 123.3,192.1 122.5,190.0 C121.7,187.9 120.6,185.8 121.2,183.8Z" fill="#d8b365"/>
<path d="M188.8,158.8 C190.1,156.7 192.1,154.4 193.8,155.0 C195.4,155.6 198.3,158.8 198.8,162.5 C199.2,166.2 197.7,175.2 196.2,177.5 C194.8,179.8 191.8,177.9 190.0,176.2 C188.2,174.6 185.7,170.4 185.5,167.5 C185.3,164.6 187.4,160.8 188.8,158.8Z" fill="#d8b365"/>
<path d="M176.0,147.0 C176.0,147.4 175.7,148.0 175.4,148.3 C175.1,148.6 174.5,148.8 174.0,148.8 C173.5,148.8 172.9,148.6 172.6,148.3 C172.3,148.0 172.0,147.4 172.0,147.0 C172.0,146.6 172.3,146.0 172.6,145.7 C172.9,145.4 173.5,145.2 174.0,145.2 C174.5,145.2 175.1,145.4 175.4,145.7 C175.7,146.0 176.0,146.6 176.0,147.0Z" fill="#c7eae5"/>
<path d="M312.6,144.4 C314.9,142.8 322.9,141.0 325.0,144.4 C327.1,147.8 326.3,161.6 325.0,165.0 C323.7,168.4 319.3,166.8 317.0,165.0 C314.7,163.2 311.7,157.4 311.0,154.0 C310.3,150.6 310.3,146.0 312.6,144.4Z" fill="#5ab4ac"/>
<path d="M325.4,147.0 C325.9,143.6 328.4,145.2 330.0,144.4 C331.6,143.6 334.2,139.0 335.0,142.4 C335.8,145.8 336.3,161.2 335.0,165.0 C333.7,168.8 328.6,168.0 327.0,165.0 C325.4,162.0 324.9,150.4 325.4,147.0Z" fill="#5ab4ac"/>
<path d="M334.0,144.0 C335.5,142.2 340.2,142.3 343.0,143.0 C345.8,143.7 349.3,145.8 351.0,148.0 C352.7,150.2 353.7,154.0 353.0,156.0 C352.3,158.0 349.3,159.7 347.0,160.0 C344.7,160.3 341.2,159.0 339.0,158.0 C336.8,157.0 334.8,156.3 334.0,154.0 C333.2,151.7 332.5,145.8 334.0,144.0Z" fill="#5ab4ac"/>
<path d="M360.0,147.0 C361.2,145.5 366.0,143.7 368.0,144.0 C370.0,144.3 372.0,147.3 372.0,149.0 C372.0,150.7 369.8,153.3 368.0,154.0 C366.2,154.7 362.3,154.2 361.0,153.0 C359.7,151.8 358.8,148.5 360.0,147.0Z" fill="#5ab4ac"/>
<path d="M374.0,147.0 C375.0,145.3 378.5,143.3 381.0,143.0 C383.5,142.7 387.7,143.5 389.0,145.0 C390.3,146.5 390.3,150.5 389.0,152.0 C387.7,153.5 383.3,153.8 381.0,154.0 C378.7,154.2 376.2,154.2 375.0,153.0 C373.8,151.8 373.0,148.7 374.0,147.0Z" fill="#5ab4ac"/>
<path d="M393.6,128.0 C393.6,128.3 393.4,128.6 393.1,128.8 C392.9,129.0 392.4,129.2 392.0,129.2 C391.6,129.2 391.1,129.0 390.9,128.8 C390.6,128.6 390.4,128.3 390.4,128.0 C390.4,127.7 390.6,127.4 390.9,127.2 C391.1,127.0 391.6,126.8 392.0,126.8 C392.4,126.8 392.9,127.0 393.1,127.2 C393.4,127.4 393.6,127.7 393.6,128.0Z" fill="#5ab4ac"/>
<path d="M421.0,144.0 C422.7,142.6 425.3,141.4 426.0,142.4 C426.7,143.4 426.7,148.0 425.4,150.0 C424.1,152.0 419.6,154.2 418.0,154.4 C416.4,154.6 415.5,152.7 416.0,151.0 C416.5,149.3 419.3,145.4 421.0,144.0Z" fill="#5ab4ac"/>
<path d="M512.0,162.4 C513.5,161.7 519.4,160.6 521.0,161.0 C522.6,161.4 522.9,164.3 521.4,165.0 C519.9,165.7 513.6,165.4 512.0,165.0 C510.4,164.6 510.5,163.1 512.0,162.4Z" fill="#5ab4ac"/>
<path d="M79.0,187.0 C80.5,185.3 84.3,184.3 87.0,183.0 C89.7,181.7 93.5,178.7 95.0,179.0 C96.5,179.3 96.2,182.0 96.0,185.0 C95.8,188.0 94.2,192.7 94.0,197.0 C93.8,201.3 93.8,207.0 95.0,211.0 C96.2,215.0 99.0,217.7 101.0,221.0 C103.0,224.3 105.2,228.3 107.0,231.0 C108.8,233.7 111.3,235.2 112.0,237.0 C112.7,238.8 112.2,241.7 111.0,242.0 C109.8,242.3 107.0,240.5 105.0,239.0 C103.0,237.5 101.0,234.3 99.0,233.0 C97.0,231.7 95.0,231.3 93.0,231.0 C91.0,230.7 88.3,232.7 87.0,231.0 C85.7,229.3 85.7,224.3 85.0,221.0 C84.3,217.7 83.8,214.3 83.0,211.0 C82.2,207.7 80.8,204.0 80.0,201.0 C79.2,198.0 78.2,195.3 78.0,193.0 C77.8,190.7 77.5,188.7 79.0,187.0Z" fill="#b2b2b2"/>
<path d="M122.0,251.0 C122.3,250.2 125.7,253.5 127.0,255.0 C128.3,256.5 130.3,259.2 130.0,260.0 C129.7,260.8 126.3,261.5 125.0,260.0 C123.7,258.5 121.7,251.8 122.0,251.0Z" fill="#b2b2b2"/>
<path d="M150.0,242.0 C150.3,239.8 153.3,238.3 155.0,238.0 C156.7,237.7 159.3,238.2 160.0,240.0 C160.7,241.8 158.5,246.8 159.0,249.0 C159.5,251.2 162.7,251.2 163.0,253.0 C163.3,254.8 162.8,258.8 161.0,260.0 C159.2,261.2 153.3,261.5 152.0,260.0 C150.7,258.5 153.3,254.0 153.0,251.0 C152.7,248.0 149.7,244.2 150.0,242.0Z" fill="#5ab4ac"/>
<path d="M172.0,234.0 C172.3,232.0 175.5,232.2 177.0,233.0 C178.5,233.8 179.3,237.7 181.0,239.0 C182.7,240.3 185.5,239.7 187.0,241.0 C188.5,242.3 190.7,245.7 190.0,247.0 C189.3,248.3 185.5,249.3 183.0,249.0 C180.5,248.7 176.8,247.5 175.0,245.0 C173.2,242.5 171.7,236.0 172.0,234.0Z" fill="#5ab4ac"/>
<path d="M179.0,249.0 C180.0,247.5 185.0,247.3 187.0,248.0 C189.0,248.7 191.0,251.3 191.0,253.0 C191.0,254.7 188.7,257.3 187.0,258.0 C185.3,258.7 182.3,258.5 181.0,257.0 C179.7,255.5 178.0,250.5 179.0,249.0Z" fill="#5ab4ac"/>
<path d="M259.6,214.0 C259.6,214.7 259.4,215.6 259.1,216.1 C258.9,216.6 258.4,217.0 258.0,217.0 C257.6,217.0 257.1,216.6 256.9,216.1 C256.6,215.6 256.4,214.7 256.4,214.0 C256.4,213.3 256.6,212.4 256.9,211.9 C257.1,211.4 257.6,211.0 258.0,211.0 C258.4,211.0 258.9,211.4 259.1,211.9 C259.4,212.4 259.6,213.3 259.6,214.0Z" fill="#5ab4ac"/>
<path d="M214.2,235.0 C214.2,235.3 214.0,235.6 213.8,235.8 C213.6,236.0 213.3,236.2 213.0,236.2 C212.7,236.2 212.4,236.0 212.2,235.8 C212.0,235.6 211.8,235.3 211.8,235.0 C211.8,234.7 212.0,234.4 212.2,234.2 C212.4,234.0 212.7,233.8 213.0,233.8 C213.3,233.8 213.6,234.0 213.8,234.2 C214.0,234.4 214.2,234.7 214.2,235.0Z" fill="#5ab4ac"/>
<path d="M213.4,246.0 C213.4,246.7 213.1,247.6 212.7,248.1 C212.3,248.6 211.6,249.0 211.0,249.0 C210.4,249.0 209.7,248.6 209.3,248.1 C208.9,247.6 208.6,246.7 208.6,246.0 C208.6,245.3 208.9,244.4 209.3,243.9 C209.7,243.4 210.4,243.0 211.0,243.0 C211.6,243.0 212.3,243.4 212.7,243.9 C213.1,244.4 213.4,245.3 213.4,246.0Z" fill="#5ab4ac"/>
<path d="M249.0,230.0 C249.0,230.2 248.9,230.5 248.7,230.7 C248.5,230.9 248.2,231.0 248.0,231.0 C247.8,231.0 247.5,230.9 247.3,230.7 C247.1,230.5 247.0,230.2 247.0,230.0 C247.0,229.8 247.1,229.5 247.3,229.3 C247.5,229.1 247.8,229.0 248.0,229.0 C248.2,229.0 248.5,229.1 248.7,229.3 C248.9,229.5 249.0,229.8 249.0,230.0Z" fill="#5ab4ac"/>
<path d="M277.0,209.0 C278.0,206.3 280.0,200.2 282.0,198.0 C284.0,195.8 286.8,196.5 289.0,196.0 C291.2,195.5 293.5,194.3 295.0,195.0 C296.5,195.7 298.3,198.3 298.0,200.0 C297.7,201.7 294.5,202.8 293.0,205.0 C291.5,207.2 291.0,211.2 289.0,213.0 C287.0,214.8 283.2,215.8 281.0,216.0 C278.8,216.2 276.7,215.2 276.0,214.0 C275.3,212.8 276.0,211.7 277.0,209.0Z" fill="#5ab4ac"/>
<path d="M300.0,195.0 C300.7,192.3 303.2,191.2 305.0,191.0 C306.8,190.8 309.8,191.3 311.0,194.0 C312.2,196.7 312.7,204.0 312.0,207.0 C311.3,210.0 308.8,212.0 307.0,212.0 C305.2,212.0 302.2,209.8 301.0,207.0 C299.8,204.2 299.3,197.7 300.0,195.0Z" fill="#5ab4ac"/>
<path d="M318.0,192.0 C318.7,190.7 321.3,189.2 322.0,190.0 C322.7,190.8 322.7,195.7 322.0,197.0 C321.3,198.3 318.7,198.8 318.0,198.0 C317.3,197.2 317.3,193.3 318.0,192.0Z" fill="#5ab4ac"/>
<path d="M327.0,184.0 C327.7,183.0 331.8,182.3 333.0,183.0 C334.2,183.7 334.7,187.0 334.0,188.0 C333.3,189.0 330.2,189.7 329.0,189.0 C327.8,188.3 326.3,185.0 327.0,184.0Z" fill="#5ab4ac"/>
<path d="M304.0,249.0 C305.0,246.8 306.8,243.5 309.0,242.0 C311.2,240.5 314.7,239.7 317.0,240.0 C319.3,240.3 321.5,241.8 323.0,244.0 C324.5,246.2 326.0,250.3 326.0,253.0 C326.0,255.7 326.5,258.8 323.0,260.0 C319.5,261.2 308.3,260.8 305.0,260.0 C301.7,259.2 303.2,256.8 303.0,255.0 C302.8,253.2 303.0,251.2 304.0,249.0Z" fill="#5ab4ac"/>
<path d="M349.0,180.0 C349.7,178.7 353.2,177.2 355.0,177.0 C356.8,176.8 359.0,177.8 360.0,179.0 C361.0,180.2 361.8,182.7 361.0,184.0 C360.2,185.3 356.7,186.8 355.0,187.0 C353.3,187.2 352.0,186.2 351.0,185.0 C350.0,183.8 348.3,181.3 349.0,180.0Z" fill="#5ab4ac"/>
<path d="M350.0,192.0 C350.0,192.2 349.9,192.5 349.7,192.7 C349.5,192.9 349.2,193.0 349.0,193.0 C348.8,193.0 348.5,192.9 348.3,192.7 C348.1,192.5 348.0,192.2 348.0,192.0 C348.0,191.8 348.1,191.5 348.3,191.3 C348.5,191.1 348.8,191.0 349.0,191.0 C349.2,191.0 349.5,191.1 349.7,191.3 C349.9,191.5 350.0,191.8 350.0,192.0Z" fill="#5ab4ac"/>
<path d="M355.0,189.0 C355.0,189.2 354.9,189.5 354.7,189.7 C354.5,189.9 354.2,190.0 354.0,190.0 C353.8,190.0 353.5,189.9 353.3,189.7 C353.1,189.5 353.0,189.2 353.0,189.0 C353.0,188.8 353.1,188.5 353.3,188.3 C353.5,188.1 353.8,188.0 354.0,188.0 C354.2,188.0 354.5,188.1 354.7,188.3 C354.9,188.5 355.0,188.8 355.0,189.0Z" fill="#5ab4ac"/>
<path d="M341.0,217.0 C341.7,216.5 345.3,216.7 346.0,217.4 C346.7,218.1 345.7,220.5 345.0,221.0 C344.3,221.5 342.7,221.3 342.0,220.6 C341.3,219.9 340.3,217.5 341.0,217.0Z" fill="#5ab4ac"/>
<path d="M361.0,234.0 C361.7,233.1 365.2,232.3 366.0,233.0 C366.8,233.7 366.7,237.1 366.0,238.0 C365.3,238.9 362.8,239.3 362.0,238.6 C361.2,237.9 360.3,234.9 361.0,234.0Z" fill="#5ab4ac"/>
<path d="M358.0,253.0 C358.7,250.8 360.5,248.5 363.0,247.0 C365.5,245.5 370.5,243.7 373.0,244.0 C375.5,244.3 376.7,247.7 378.0,249.0 C379.3,250.3 381.5,251.2 381.0,252.0 C380.5,252.8 376.7,252.7 375.0,254.0 C373.3,255.3 373.7,259.0 371.0,260.0 C368.3,261.0 361.2,261.2 359.0,260.0 C356.8,258.8 357.3,255.2 358.0,253.0Z" fill="#5ab4ac"/>
<path d="M393.0,253.0 C394.0,251.5 398.7,249.8 401.0,249.0 C403.3,248.2 405.2,248.5 407.0,248.0 C408.8,247.5 410.3,245.8 412.0,246.0 C413.7,246.2 416.5,247.3 417.0,249.0 C417.5,250.7 416.7,254.5 415.0,256.0 C413.3,257.5 409.3,258.2 407.0,258.0 C404.7,257.8 403.0,255.0 401.0,255.0 C399.0,255.0 396.3,258.3 395.0,258.0 C393.7,257.7 392.0,254.5 393.0,253.0Z" fill="#5ab4ac"/>
<path d="M416.0,208.0 C417.0,206.7 420.5,204.7 422.0,205.0 C423.5,205.3 425.2,208.3 425.0,210.0 C424.8,211.7 422.5,214.5 421.0,215.0 C419.5,215.5 416.8,214.2 416.0,213.0 C415.2,211.8 415.0,209.3 416.0,208.0Z" fill="#5ab4ac"/>
<path d="M414.0,226.0 C414.8,225.0 418.8,224.3 420.0,225.0 C421.2,225.7 421.8,229.0 421.0,230.0 C420.2,231.0 416.2,231.7 415.0,231.0 C413.8,230.3 413.2,227.0 414.0,226.0Z" fill="#5ab4ac"/>
<path d="M428.0,218.0 C428.7,216.8 432.2,216.0 433.0,217.0 C433.8,218.0 433.7,222.8 433.0,224.0 C432.3,225.2 429.4,225.0 428.6,224.0 C427.8,223.0 427.3,219.2 428.0,218.0Z" fill="#5ab4ac"/>
<path d="M429.0,247.0 C429.7,245.2 433.3,243.7 435.0,244.0 C436.7,244.3 438.7,247.2 439.0,249.0 C439.3,250.8 438.3,254.0 437.0,255.0 C435.7,256.0 432.3,256.3 431.0,255.0 C429.7,253.7 428.3,248.8 429.0,247.0Z" fill="#5ab4ac"/>
<path d="M446.0,216.0 C446.7,214.8 450.0,214.2 451.0,215.0 C452.0,215.8 452.7,219.8 452.0,221.0 C451.3,222.2 448.0,222.8 447.0,222.0 C446.0,221.2 445.3,217.2 446.0,216.0Z" fill="#5ab4ac"/>
<path d="M482.0,185.0 C482.5,183.8 485.8,182.7 487.0,183.0 C488.2,183.3 489.5,185.8 489.0,187.0 C488.5,188.2 485.2,190.3 484.0,190.0 C482.8,189.7 481.5,186.2 482.0,185.0Z" fill="#5ab4ac"/>
<path d="M493.0,187.0 C493.5,186.0 496.8,185.5 498.0,186.0 C499.2,186.5 500.5,189.0 500.0,190.0 C499.5,191.0 496.2,192.5 495.0,192.0 C493.8,191.5 492.5,188.0 493.0,187.0Z" fill="#5ab4ac"/>
<path d="M505.0,195.0 C505.7,194.0 509.7,193.3 511.0,194.0 C512.3,194.7 513.7,198.0 513.0,199.0 C512.3,200.0 508.3,200.7 507.0,200.0 C505.7,199.3 504.3,196.0 505.0,195.0Z" fill="#5ab4ac"/>
<path d="M475.0,212.0 C475.8,211.0 479.8,210.5 481.0,211.0 C482.2,211.5 482.8,214.0 482.0,215.0 C481.2,216.0 477.2,217.5 476.0,217.0 C474.8,216.5 474.2,213.0 475.0,212.0Z" fill="#5ab4ac"/>
<path d="M515.0,164.0 C516.2,163.0 521.8,163.0 523.0,164.0 C524.2,165.0 523.2,169.0 522.0,170.0 C520.8,171.0 517.2,171.0 516.0,170.0 C514.8,169.0 513.8,165.0 515.0,164.0Z" fill="#5ab4ac"/>
<path d="M123.0,277.0 C123.0,275.2 125.0,272.3 127.0,271.0 C129.0,269.7 132.8,269.2 135.0,269.0 C137.2,268.8 139.0,269.2 140.0,270.0 C141.0,270.8 141.8,273.2 141.0,274.0 C140.2,274.8 136.5,274.0 135.0,275.0 C133.5,276.0 133.3,278.8 132.0,280.0 C130.7,281.2 128.5,282.5 127.0,282.0 C125.5,281.5 123.0,278.8 123.0,277.0Z" fill="#5ab4ac"/>
<path d="M143.0,272.0 C143.8,270.0 148.0,269.3 150.0,268.0 C152.0,266.7 153.7,265.5 155.0,264.0 C156.3,262.5 155.3,259.8 158.0,259.0 C160.7,258.2 168.2,257.5 171.0,259.0 C173.8,260.5 174.2,265.3 175.0,268.0 C175.8,270.7 177.0,273.3 176.0,275.0 C175.0,276.7 170.8,277.2 169.0,278.0 C167.2,278.8 164.7,279.3 165.0,280.0 C165.3,280.7 169.0,281.0 171.0,282.0 C173.0,283.0 175.5,284.0 177.0,286.0 C178.5,288.0 180.5,291.8 180.0,294.0 C179.5,296.2 175.8,297.0 174.0,299.0 C172.2,301.0 170.8,304.2 169.0,306.0 C167.2,307.8 165.3,310.1 163.0,310.0 C160.7,309.9 158.5,307.8 155.0,305.6 C151.5,303.4 144.8,299.1 142.0,297.0 C139.2,294.9 138.0,294.8 138.0,293.0 C138.0,291.2 140.8,288.2 142.0,286.0 C143.2,283.8 144.8,282.3 145.0,280.0 C145.2,277.7 142.2,274.0 143.0,272.0Z" fill="#5ab4ac"/>
<path d="M229.0,272.0 C230.0,269.5 232.7,269.8 235.0,269.0 C237.3,268.2 240.8,266.5 243.0,267.0 C245.2,267.5 246.0,271.0 248.0,272.0 C250.0,273.0 252.7,272.3 255.0,273.0 C257.3,273.7 261.0,274.7 262.0,276.0 C263.0,277.3 262.5,280.0 261.0,281.0 C259.5,282.0 255.7,282.3 253.0,282.0 C250.3,281.7 247.3,279.2 245.0,279.0 C242.7,278.8 241.0,280.0 239.0,281.0 C237.0,282.0 234.7,284.5 233.0,285.0 C231.3,285.5 229.7,286.2 229.0,284.0 C228.3,281.8 228.0,274.5 229.0,272.0Z" fill="#5ab4ac"/>
<path d="M247.0,259.0 C248.0,257.5 253.2,257.8 254.0,259.0 C254.8,260.2 253.0,264.5 252.0,266.0 C251.0,267.5 248.8,269.2 248.0,268.0 C247.2,266.8 246.0,260.5 247.0,259.0Z" fill="#5ab4ac"/>
<path d="M264.0,273.0 C265.5,270.8 270.3,271.2 273.0,271.0 C275.7,270.8 279.0,271.0 280.0,272.0 C281.0,273.0 280.5,275.2 279.0,277.0 C277.5,278.8 273.5,281.8 271.0,283.0 C268.5,284.2 265.2,285.7 264.0,284.0 C262.8,282.3 262.5,275.2 264.0,273.0Z" fill="#5ab4ac"/>
<path d="M241.0,313.0 C241.8,309.7 245.2,305.2 247.0,304.0 C248.8,302.8 250.7,304.3 252.0,306.0 C253.3,307.7 254.7,310.7 255.0,314.0 C255.3,317.3 254.3,321.7 254.0,326.0 C253.7,330.3 254.5,337.3 253.0,340.0 C251.5,342.7 247.0,342.5 245.0,342.0 C243.0,341.5 241.5,340.0 241.0,337.0 C240.5,334.0 242.0,328.0 242.0,324.0 C242.0,320.0 240.2,316.3 241.0,313.0Z" fill="#5ab4ac"/>
<path d="M274.6,302.4 C274.6,302.8 274.4,303.3 274.1,303.5 C273.9,303.8 273.4,304.0 273.0,304.0 C272.6,304.0 272.1,303.8 271.9,303.5 C271.6,303.3 271.4,302.8 271.4,302.4 C271.4,302.0 271.6,301.5 271.9,301.3 C272.1,301.0 272.6,300.8 273.0,300.8 C273.4,300.8 273.9,301.0 274.1,301.3 C274.4,301.5 274.6,302.0 274.6,302.4Z" fill="#5ab4ac"/>
<path d="M304.0,264.0 C309.3,262.7 329.8,259.7 335.0,262.0 C340.2,264.3 335.7,274.0 335.0,278.0 C334.3,282.0 332.5,283.5 331.0,286.0 C329.5,288.5 327.7,293.3 326.0,293.0 C324.3,292.7 322.8,286.2 321.0,284.0 C319.2,281.8 317.3,281.3 315.0,280.0 C312.7,278.7 309.0,277.7 307.0,276.0 C305.0,274.3 303.5,272.0 303.0,270.0 C302.5,268.0 298.7,265.3 304.0,264.0Z" fill="#5ab4ac"/>
<path d="M314.0,328.0 C314.3,327.0 318.8,327.3 321.0,326.0 C323.2,324.7 324.7,321.0 327.0,320.0 C329.3,319.0 333.7,317.5 335.0,320.0 C336.3,322.5 336.0,333.3 335.0,335.0 C334.0,336.7 331.7,330.5 329.0,330.0 C326.3,329.5 321.5,332.3 319.0,332.0 C316.5,331.7 313.7,329.0 314.0,328.0Z" fill="#5ab4ac"/>
<path d="M332.0,308.0 C332.5,307.2 334.5,307.0 335.0,308.0 C335.5,309.0 335.5,313.2 335.0,314.0 C334.5,314.8 332.5,314.0 332.0,313.0 C331.5,312.0 331.5,308.8 332.0,308.0Z" fill="#5ab4ac"/>
<path d="M268.4,347.6 C268.4,347.8 268.2,348.0 268.0,348.2 C267.8,348.3 267.3,348.4 267.0,348.4 C266.7,348.4 266.2,348.3 266.0,348.2 C265.8,348.0 265.6,347.8 265.6,347.6 C265.6,347.4 265.8,347.2 266.0,347.0 C266.2,346.9 266.7,346.8 267.0,346.8 C267.3,346.8 267.8,346.9 268.0,347.0 C268.2,347.2 268.4,347.4 268.4,347.6Z" fill="#d8b365"/>
<path d="M365.0,259.0 C366.2,256.8 370.7,256.8 372.0,259.0 C373.3,261.2 373.0,268.5 373.0,272.0 C373.0,275.5 373.3,278.3 372.0,280.0 C370.7,281.7 366.8,282.2 365.0,282.0 C363.2,281.8 361.0,280.7 361.0,279.0 C361.0,277.3 364.3,275.3 365.0,272.0 C365.7,268.7 363.8,261.2 365.0,259.0Z" fill="#5ab4ac"/>
<path d="M334.0,308.0 C335.5,306.8 341.3,306.2 343.0,307.0 C344.7,307.8 345.5,311.8 344.0,313.0 C342.5,314.2 335.7,314.8 334.0,314.0 C332.3,313.2 332.5,309.2 334.0,308.0Z" fill="#5ab4ac"/>
<path d="M334.0,322.0 C335.3,319.2 340.3,321.0 342.0,323.0 C343.7,325.0 344.3,331.2 344.0,334.0 C343.7,336.8 341.7,339.0 340.0,340.0 C338.3,341.0 335.0,343.0 334.0,340.0 C333.0,337.0 332.7,324.8 334.0,322.0Z" fill="#5ab4ac"/>
<path d="M344.0,344.0 C345.0,343.3 349.2,344.0 350.0,345.0 C350.8,346.0 350.0,349.3 349.0,350.0 C348.0,350.7 344.8,350.0 344.0,349.0 C343.2,348.0 343.0,344.7 344.0,344.0Z" fill="#5ab4ac"/>
<path d="M390.0,284.0 C390.8,282.7 392.8,281.8 395.0,282.0 C397.2,282.2 401.0,284.3 403.0,285.0 C405.0,285.7 406.3,281.8 407.0,286.0 C407.7,290.2 407.5,305.5 407.0,310.0 C406.5,314.5 405.3,313.5 404.0,313.0 C402.7,312.5 400.2,309.2 399.0,307.0 C397.8,304.8 398.0,302.2 397.0,300.0 C396.0,297.8 394.2,295.7 393.0,294.0 C391.8,292.3 390.5,291.7 390.0,290.0 C389.5,288.3 389.2,285.3 390.0,284.0Z" fill="#5ab4ac"/>
<path d="M394.0,317.0 C394.7,316.2 398.0,314.7 399.0,315.0 C400.0,315.3 400.7,318.2 400.0,319.0 C399.3,319.8 396.0,320.3 395.0,320.0 C394.0,319.7 393.3,317.8 394.0,317.0Z" fill="#5ab4ac"/>
<path d="M408.0,284.0 C409.5,278.9 415.2,282.3 417.0,283.6 C418.8,284.9 419.2,288.9 419.0,292.0 C418.8,295.1 416.3,298.7 416.0,302.0 C415.7,305.3 417.5,309.3 417.0,312.0 C416.5,314.7 414.5,317.7 413.0,318.0 C411.5,318.3 408.8,319.7 408.0,314.0 C407.2,308.3 406.5,289.1 408.0,284.0Z" fill="#5ab4ac"/>
<path d="M423.0,320.0 C423.7,318.0 425.3,315.5 427.0,313.0 C428.7,310.5 431.3,306.3 433.0,305.0 C434.7,303.7 436.5,303.8 437.0,305.0 C437.5,306.2 437.0,309.5 436.0,312.0 C435.0,314.5 432.5,317.7 431.0,320.0 C429.5,322.3 428.3,325.2 427.0,326.0 C425.7,326.8 423.7,326.0 423.0,325.0 C422.3,324.0 422.3,322.0 423.0,320.0Z" fill="#5ab4ac"/>
<path d="M423.0,330.0 C423.7,329.3 426.3,328.5 427.0,329.0 C427.7,329.5 427.7,332.3 427.0,333.0 C426.3,333.7 423.7,333.5 423.0,333.0 C422.3,332.5 422.3,330.7 423.0,330.0Z" fill="#5ab4ac"/>
<path d="M400.0,266.0 C400.7,264.7 404.0,264.0 405.0,265.0 C406.0,266.0 406.7,270.7 406.0,272.0 C405.3,273.3 402.0,274.0 401.0,273.0 C400.0,272.0 399.3,267.3 400.0,266.0Z" fill="#5ab4ac"/>
<path d="M389.0,279.0 C390.5,278.0 397.2,277.3 399.0,278.0 C400.8,278.7 401.5,282.0 400.0,283.0 C398.5,284.0 391.8,284.7 390.0,284.0 C388.2,283.3 387.5,280.0 389.0,279.0Z" fill="#5ab4ac"/>
<path d="M415.0,274.0 C415.4,273.0 416.7,273.0 417.0,274.0 C417.3,275.0 417.0,279.0 416.6,280.0 C416.2,281.0 414.9,281.0 414.6,280.0 C414.3,279.0 414.6,275.0 415.0,274.0Z" fill="#5ab4ac"/>
<path d="M447.0,292.0 C447.5,290.3 450.7,289.3 452.0,290.0 C453.3,290.7 453.8,294.0 455.0,296.0 C456.2,298.0 458.7,300.0 459.0,302.0 C459.3,304.0 458.3,307.2 457.0,308.0 C455.7,308.8 452.3,308.3 451.0,307.0 C449.7,305.7 449.7,302.5 449.0,300.0 C448.3,297.5 446.5,293.7 447.0,292.0Z" fill="#5ab4ac"/>
<path d="M314.0,327.0 C314.0,325.8 315.3,325.3 320.0,325.0 C324.7,324.7 338.2,323.7 342.0,325.0 C345.8,326.3 343.3,330.5 343.0,333.0 C342.7,335.5 341.2,339.2 340.0,340.0 C338.8,340.8 336.8,339.2 336.0,338.0 C335.2,336.8 336.7,334.2 335.0,333.0 C333.3,331.8 328.5,331.2 326.0,331.0 C323.5,330.8 322.0,332.7 320.0,332.0 C318.0,331.3 314.0,328.2 314.0,327.0Z" fill="#5ab4ac"/>
<path d="M344.0,345.0 C344.5,344.0 347.0,342.5 348.0,343.0 C349.0,343.5 350.5,347.0 350.0,348.0 C349.5,349.0 346.0,349.5 345.0,349.0 C344.0,348.5 343.5,346.0 344.0,345.0Z" fill="#5ab4ac"/>
<path d="M312.0,365.0 C312.7,363.2 315.2,361.5 317.0,361.0 C318.8,360.5 321.8,360.8 323.0,362.0 C324.2,363.2 324.7,366.2 324.0,368.0 C323.3,369.8 320.8,372.3 319.0,373.0 C317.2,373.7 314.2,373.3 313.0,372.0 C311.8,370.7 311.3,366.8 312.0,365.0Z" fill="#5ab4ac"/>
<path d="M268.2,348.0 C268.2,348.2 268.0,348.4 267.8,348.6 C267.6,348.7 267.3,348.8 267.0,348.8 C266.7,348.8 266.4,348.7 266.2,348.6 C266.0,348.4 265.8,348.2 265.8,348.0 C265.8,347.8 266.0,347.6 266.2,347.4 C266.4,347.3 266.7,347.2 267.0,347.2 C267.3,347.2 267.6,347.3 267.8,347.4 C268.0,347.6 268.2,347.8 268.2,348.0Z" fill="#d8b365"/>
<path d="M491.6,374.4 C491.9,373.5 494.2,372.6 495.0,373.0 C495.8,373.4 496.7,376.1 496.4,377.0 C496.1,377.9 493.8,378.8 493.0,378.4 C492.2,378.0 491.3,375.3 491.6,374.4Z" fill="#b2b2b2"/>
<path d="M313.0,147.5 C314.0,145.6 317.4,142.9 319.2,142.5 C321.1,142.1 322.0,145.0 324.2,145.0 C326.5,145.0 329.9,142.7 333.0,142.5 C336.1,142.3 340.1,142.9 343.0,143.8 C345.9,144.6 348.8,145.6 350.5,147.5 C352.2,149.4 353.4,153.1 353.0,155.0 C352.6,156.9 350.5,158.8 348.0,158.8 C345.5,158.8 340.5,155.0 338.0,155.0 C335.5,155.0 334.2,157.1 333.0,158.8 C331.8,160.4 332.2,163.8 330.5,165.0 C328.8,166.2 325.3,167.1 323.0,166.2 C320.7,165.4 318.4,162.1 316.8,160.0 C315.1,157.9 313.6,155.8 313.0,153.8 C312.4,151.7 312.0,149.4 313.0,147.5Z" fill="#5ab4ac"/>
<path d="M303.0,249.0 C303.8,246.0 305.2,243.3 308.0,242.0 C310.8,240.7 316.8,239.8 320.0,241.0 C323.2,242.2 325.5,246.2 327.0,249.0 C328.5,251.8 326.8,256.2 329.0,258.0 C331.2,259.8 338.0,258.0 340.0,260.0 C342.0,262.0 342.0,266.7 341.0,270.0 C340.0,273.3 336.2,276.3 334.0,280.0 C331.8,283.7 329.7,290.7 328.0,292.0 C326.3,293.3 325.5,290.0 324.0,288.0 C322.5,286.0 320.7,282.2 319.0,280.0 C317.3,277.8 316.3,276.7 314.0,275.0 C311.7,273.3 306.8,272.5 305.0,270.0 C303.2,267.5 303.3,263.5 303.0,260.0 C302.7,256.5 302.2,252.0 303.0,249.0Z" fill="#5ab4ac"/>
<path d="M172.0,183.8 C174.4,182.0 181.7,183.9 185.0,184.5 C188.3,185.1 191.1,185.1 192.0,187.5 C192.9,189.9 191.7,196.5 190.5,198.8 C189.3,201.0 187.6,200.6 185.0,201.2 C182.4,201.9 177.4,203.5 175.0,202.5 C172.6,201.5 171.0,198.1 170.5,195.0 C170.0,191.9 169.6,185.5 172.0,183.8Z" fill="#f6e8c3"/>
<path d="M128.0,97.0 C128.2,95.5 130.2,92.0 132.0,91.0 C133.8,90.0 137.0,90.5 139.0,91.0 C141.0,91.5 142.3,93.7 144.0,94.0 C145.7,94.3 147.8,92.5 149.0,93.0 C150.2,93.5 151.2,95.5 151.0,97.0 C150.8,98.5 148.2,100.3 148.0,102.0 C147.8,103.7 148.8,106.5 150.0,107.0 C151.2,107.5 153.3,105.2 155.0,105.0 C156.7,104.8 159.0,104.8 160.0,106.0 C161.0,107.2 161.3,109.8 161.0,112.0 C160.7,114.2 159.2,117.8 158.0,119.0 C156.8,120.2 155.0,120.0 154.0,119.0 C153.0,118.0 153.0,114.5 152.0,113.0 C151.0,111.5 149.2,110.0 148.0,110.0 C146.8,110.0 145.8,111.7 145.0,113.0 C144.2,114.3 144.3,117.3 143.0,118.0 C141.7,118.7 138.3,118.0 137.0,117.0 C135.7,116.0 136.3,113.5 135.0,112.0 C133.7,110.5 130.2,109.2 129.0,108.0 C127.8,106.8 127.3,105.7 128.0,105.0 C128.7,104.3 132.5,104.8 133.0,104.0 C133.5,103.2 131.8,101.2 131.0,100.0 C130.2,98.8 127.8,98.5 128.0,97.0Z" fill="#8c510a"/>
<path d="M192.0,185.0 C192.7,183.5 196.5,183.0 198.0,184.0 C199.5,185.0 200.7,188.8 201.0,191.0 C201.3,193.2 201.0,195.7 200.0,197.0 C199.0,198.3 196.0,199.7 195.0,199.0 C194.0,198.3 194.5,195.3 194.0,193.0 C193.5,190.7 191.3,186.5 192.0,185.0Z" fill="#8c510a"/>
<path d="M179.0,185.0 C179.7,184.5 182.2,185.2 183.0,186.0 C183.8,186.8 183.5,189.2 184.0,190.0 C184.5,190.8 185.8,189.8 186.0,191.0 C186.2,192.2 185.7,195.8 185.0,197.0 C184.3,198.2 182.8,198.7 182.0,198.0 C181.2,197.3 180.6,194.5 180.0,193.0 C179.4,191.5 178.8,190.3 178.6,189.0 C178.4,187.7 178.3,185.5 179.0,185.0Z" fill="#b2b2b2"/>
<path d="M162.0,289.0 C162.3,288.0 164.3,287.2 166.0,287.0 C167.7,286.8 170.8,286.9 172.0,287.6 C173.2,288.3 173.5,290.0 173.0,291.0 C172.5,292.0 170.5,293.3 169.0,293.6 C167.5,293.9 165.2,293.8 164.0,293.0 C162.8,292.2 161.7,290.0 162.0,289.0Z" fill="#01665e"/>
<path d="M330.6,266.0 C331.0,265.3 332.6,265.3 333.0,266.0 C333.4,266.7 333.4,269.3 333.0,270.0 C332.6,270.7 331.0,270.7 330.6,270.0 C330.2,269.3 330.2,266.7 330.6,266.0Z" fill="#01665e"/>
</g>
<path d="M101.6,76.9 L100.2,82.8 L100.9,90.3 L101.3,96.5 L100.8,99.6 L99.5,104.3 L99.0,109.0 L96.4,117.6 L93.4,124.7 L90.3,133.0 L86.5,139.9 L83.2,145.0 L82.9,150.8 L83.1,156.2 L81.8,162.6 L80.5,168.9 L75.9,174.9 L77.3,180.0 L77.8,188.3 L76.7,195.3 L80.2,203.8 L80.2,209.2 L83.6,212.9 L82.6,216.7 L82.3,221.3 L85.3,224.9 L86.7,227.3 L84.6,229.4 L84.1,233.2 L87.8,242.3 L90.7,247.9 L92.1,250.9 L91.1,256.0 L91.7,260.2 L98.9,262.8 L102.9,267.2 L106.4,270.1 L109.3,270.8 L109.5,274.2 L112.4,275.0 L115.5,279.7 L118.4,285.0 L118.1,288.9 L118.7,292.6 L142.9,295.6 L141.4,298.3 L176.4,320.1 L205.5,324.6 L206.2,318.8 L223.2,321.0 L226.2,325.4 L231.8,331.0 L237.5,337.1 L240.0,344.5 L241.6,350.4 L246.4,355.4 L253.5,359.8 L255.0,360.3 L259.0,356.4 L260.8,350.9 L264.7,349.5 L274.0,351.4 L278.0,356.7 L281.3,360.4 L282.8,365.6 L284.7,370.8 L292.9,381.3 L293.2,387.7 L296.8,395.5 L305.4,399.5 L311.9,402.2 L317.9,401.6 L317.5,393.4 L316.0,384.5 L317.7,379.4 L322.0,374.4 L327.3,370.0 L333.7,366.1 L340.0,361.6 L343.7,358.4 L347.3,355.8 L353.2,353.7 L359.8,352.6 L366.2,354.6 L371.4,354.4 L374.6,355.5 L380.0,357.8 L384.4,360.8 L389.6,359.8 L392.7,359.0 L395.8,356.8 L400.2,360.4 L403.3,358.9 L399.9,355.3 L397.5,351.6 L400.5,349.5 L399.3,347.0 L396.1,345.7 L398.2,345.1 L402.2,342.7 L408.4,342.4 L412.5,342.0 L413.2,337.5 L414.6,341.2 L416.3,343.0 L418.6,342.4 L421.9,341.4 L429.1,340.1 L433.2,340.0 L437.7,342.7 L441.3,347.4 L445.7,348.2 L451.5,343.6 L455.3,340.5 L459.8,342.5 L462.5,347.3 L466.7,351.2 L470.2,353.9 L472.1,360.0 L471.2,365.3 L472.4,370.3 L475.0,373.8 L479.1,379.6 L481.2,383.1 L484.2,384.5 L485.2,387.6 L487.8,390.4 L493.0,395.3 L494.6,398.6 L500.0,397.3 L502.0,396.3 L502.4,395.0 L503.9,388.7 L503.3,379.4 L502.4,373.7 L498.6,367.3 L496.2,362.6 L494.2,356.5 L491.3,351.8 L487.8,345.9 L483.5,338.9 L481.6,332.7 L480.5,328.9 L480.3,323.8 L481.1,318.5 L481.8,313.2 L483.8,311.1 L486.1,307.2 L489.6,303.4 L492.2,300.3 L495.6,296.4 L498.2,293.3 L499.4,288.5 L503.1,283.8 L508.5,282.5 L509.6,277.9 L513.7,272.5 L519.1,269.3 L521.0,270.2 L522.5,266.0 L529.0,260.1 L528.0,254.1 L524.4,248.4 L522.4,244.2 L520.4,240.0 L517.3,240.1 L515.9,233.1 L514.7,226.8 L511.9,222.1 L511.1,215.7 L510.6,211.2 L513.2,207.3 L512.8,212.7 L512.9,217.9 L514.9,222.8 L518.6,227.2 L519.2,235.0 L520.2,237.2 L522.2,230.4 L523.9,224.7 L524.8,219.2 L523.8,214.4 L521.3,212.1 L519.6,208.5 L517.4,205.0 L518.3,206.8 L522.5,209.1 L525.1,212.1 L526.8,206.8 L529.3,200.9 L529.7,194.1 L528.9,190.8 L526.6,190.9 L528.3,187.9 L528.9,186.4 L530.5,183.3 L534.9,180.2 L540.7,177.1 L545.2,175.2 L548.2,173.7 L548.3,170.6 L550.5,171.7 L551.1,171.1 L552.4,170.1 L555.0,169.3 L560.3,166.5 L559.6,162.7 L557.2,161.8 L559.0,163.5 L559.9,164.8 L555.5,166.1 L553.6,163.8 L552.3,160.8 L549.4,160.3 L550.1,157.4 L551.8,155.3 L549.5,153.3 L549.7,150.6 L550.2,147.4 L552.2,142.8 L555.1,139.9 L558.6,136.2 L560.5,133.6 L561.0,128.8 L564.2,130.5 L566.5,129.1 L569.1,125.5 L572.6,122.4 L574.8,119.6 L573.4,117.4 L570.8,116.2 L569.1,114.8 L568.0,111.1 L564.8,110.8 L564.1,107.7 L560.2,94.1 L555.1,91.9 L550.9,95.5 L549.3,94.4 L547.5,92.9 L543.8,104.1 L544.3,107.9 L543.0,110.9 L544.2,113.9 L543.6,116.7 L541.5,124.0 L539.5,123.9 L537.2,125.9 L536.9,128.4 L524.6,131.8 L510.5,135.5 L506.0,139.1 L502.8,144.5 L499.2,148.6 L496.3,156.7 L480.1,160.0 L477.9,165.2 L480.1,170.2 L471.7,179.0 L450.9,190.5 L445.0,187.2 L444.6,184.0 L449.3,178.8 L449.3,173.6 L450.3,160.4 L444.7,144.5 L435.4,138.7 L434.2,135.7 L429.4,131.2 L425.3,132.4 L422.6,126.9 L408.3,120.9 L392.1,112.3 L385.0,116.6 L382.8,116.8 L379.3,115.8 L373.2,116.2 L367.9,116.8 L362.9,114.1 L359.7,114.3 L355.1,110.4 L351.5,110.8 L348.3,111.5 L341.8,109.5 L341.0,107.2 L340.3,101.5 L337.3,101.2 L337.3,106.0 L331.8,106.0 L326.3,106.0 L320.8,105.9 L315.2,105.8 L309.7,105.7 L304.2,105.5 L298.6,105.3 L293.1,105.0 L287.6,104.7 L282.1,104.4 L276.5,104.0 L271.0,103.5 L265.5,103.1 L260.0,102.5 L254.5,102.0 L249.0,101.4 L243.5,100.7 L238.0,100.0 L232.5,99.3 L227.0,98.5 L221.5,97.7 L216.1,96.8 L210.6,95.9 L205.1,95.0 L199.7,94.0 L194.2,93.0 L188.8,91.9 L183.4,90.8 L178.0,89.6 L172.5,88.4 L167.1,87.2 L161.7,85.9 L156.3,84.6 L151.0,83.2 L145.6,81.8 L140.2,80.4 L134.9,78.9 L129.5,77.4 L124.2,75.8 L118.5,73.8 L119.2,76.5 L118.8,79.5 L119.6,82.6 L119.2,85.7 L118.0,88.0 L116.5,91.0 L115.4,94.2 L113.0,96.0 L110.8,96.5 L109.6,95.0 L110.8,91.8 L113.0,88.8 L115.4,86.0 L115.8,83.4 L113.0,82.6 L110.0,80.7 L105.4,78.8 L101.5,76.1Z M528.0,189.0 L531.0,186.5 L536.0,184.0 L541.0,181.0 L546.5,177.5 L547.5,178.5 L543.0,181.5 L545.0,181.0 L541.0,183.5 L536.0,186.5 L531.0,189.5Z" fill="none" stroke="#111" stroke-width="0.8" stroke-linejoin="round"/>
<path d="M362.0,134.0 L367.0,133.0 L373.0,132.0 L378.0,135.0 L386.0,130.0 L391.0,127.5 L393.0,123.0 L399.0,122.4 L395.0,127.0 L401.0,130.0 L407.0,132.4 L415.0,130.0 L423.0,128.0 L426.0,131.0 L424.0,125.0 L423.0,118.0 L420.0,113.0 L416.0,113.0 L413.0,110.0 L409.0,105.0 L401.0,104.4 L393.0,103.0 L390.0,107.0 L385.0,110.0 L384.0,115.0 L375.0,121.0 L367.0,128.0Z" fill="#8a8a8a" stroke="#333" stroke-width="0.6" stroke-linejoin="round"/>
<path d="M425.0,138.5 L419.6,137.7 L414.0,139.0 L409.6,142.3 L406.5,145.4 L402.7,150.8 L398.8,158.5 L399.6,159.6 L401.4,157.7 L404.7,151.5 L408.0,146.2 L409.4,143.6 L407.5,149.2 L405.2,156.2 L403.2,166.0 L402.0,173.8 L402.0,181.5 L403.5,187.7 L405.5,192.0 L409.0,194.0 L412.5,192.5 L416.5,187.7 L417.3,181.5 L415.8,173.8 L413.5,166.0 L415.0,157.0 L418.0,154.6 L419.6,150.8 L421.0,153.0 L422.7,145.4 L426.5,143.0 L424.0,140.0Z" fill="#8a8a8a" stroke="#333" stroke-width="0.6" stroke-linejoin="round"/>
<path d="M426.0,138.0 L429.0,133.0 L443.0,133.0 L451.0,133.6 L457.0,135.0 L463.0,137.3 L466.0,141.0 L469.0,146.0 L467.7,146.5 L460.8,150.4 L454.6,143.5 L453.0,147.3 L455.4,155.0 L454.6,165.8 L450.8,172.0 L447.7,165.0 L443.0,161.0 L438.5,165.8 L435.4,165.0 L439.0,159.6 L438.5,148.0 L436.0,148.0 L432.0,141.0Z" fill="#8a8a8a" stroke="#333" stroke-width="0.6" stroke-linejoin="round"/>
<path d="M443.8,188.0 L450.0,185.8 L459.0,177.3 L468.5,173.0 L477.7,170.4 L479.0,172.0 L474.6,179.6 L468.5,183.5 L460.8,188.0 L453.0,192.7 L447.0,193.5 L443.8,192.0Z" fill="#8a8a8a" stroke="#333" stroke-width="0.6" stroke-linejoin="round"/>
<path d="M471.8,164.2 L476.0,158.8 L487.0,152.7 L496.0,148.0 L500.8,148.0 L502.0,153.5 L497.7,158.8 L488.5,162.0 L479.0,164.2 L473.8,165.8Z" fill="#8a8a8a" stroke="#333" stroke-width="0.6" stroke-linejoin="round"/>
<path d="M431.0,136.5 L440.0,137.5 L449.0,135.5 L451.0,137.0 L446.0,139.5 L436.0,139.5Z" fill="#d3d3d3"/>
<path d="M139.4,308.0 L148.0,312.0 L154.0,318.0 L156.0,330.0 L159.0,340.0 L161.0,350.0 L162.0,352.0 L166.0,360.0 L174.0,366.0 L180.0,376.0 L187.0,384.0 L185.0,392.0 L194.0,402.0 L198.0,411.0 L168.0,411.0 L169.0,400.0 L165.0,390.0 L161.0,378.0 L155.0,364.0 L150.0,350.0 L149.0,350.0 L144.0,340.0 L140.0,330.0 L138.0,318.0Z" fill="#969696"/>
<path d="M546.7,70.0 L554.8,70.0 L550.0,78.8 L544.0,87.4 L539.7,97.0 L534.3,104.0 L537.5,97.0 L541.3,89.5 L543.5,79.8Z" fill="#969696"/>
<path d="M272.0,114.0 L276.0,116.0 L278.0,119.0 L281.0,122.0 L285.0,123.0 L288.0,122.5" fill="none" stroke="#8e8e8e" stroke-width="0.6"/>
<path d="M291.5,134.5 L292.5,138.0 L292.0,142.0 L293.0,146.0 L292.5,149.0 L293.0,153.0" fill="none" stroke="#8e8e8e" stroke-width="0.6"/>
<path d="M232.0,117.0 L237.0,117.2 L243.0,115.6 L246.0,114.0 L247.0,119.0" fill="none" stroke="#8e8e8e" stroke-width="0.6"/>
<g fill="none" stroke="#111" stroke-width="0.8" stroke-linejoin="round">
<path d="M163.3,86.3 L156.5,118.3 L156.8,121.6 L156.4,123.7"/>
<path d="M171.0,88.1 L168.5,100.7 L170.6,104.8 L169.8,108.6 L172.7,111.1 L174.9,114.9 L176.6,119.1 L179.0,120.3 L177.1,125.7 L176.7,130.2 L174.8,133.7 L179.7,132.8 L181.0,135.0 L180.9,138.2 L183.9,145.3 L186.6,150.4 L191.3,150.6 L198.2,151.2 L199.4,148.8 L201.8,152.9"/>
<path d="M156.4,123.7 L147.9,121.7 L139.5,119.5 L136.7,119.7 L134.2,119.3 L128.8,120.3 L122.8,119.6 L120.2,119.5 L118.1,117.6 L114.9,116.6 L111.1,117.5 L108.0,115.9 L108.1,112.6 L108.1,109.3 L106.0,107.5 L103.8,105.9 L99.8,104.5"/>
<path d="M156.4,123.7 L158.8,129.5 L156.3,132.9 L154.0,137.6 L150.1,141.9 L149.5,144.4 L151.7,146.9 L149.6,151.0 L144.8,173.6"/>
<path d="M83.1,156.2 L91.7,159.0 L100.4,161.6 L109.0,164.2 L117.7,166.6 L126.5,169.0 L135.2,171.3 L144.0,173.4 L152.8,175.5 L161.6,177.4 L170.5,179.3 L179.3,181.0 L188.2,182.7 L197.1,184.3"/>
<path d="M119.1,167.0 L110.0,204.5 L116.1,215.0 L122.4,225.5 L128.8,235.9 L135.4,246.3 L142.2,256.7 L149.1,266.9"/>
<path d="M149.1,266.9 L149.2,269.6 L150.1,274.4 L152.1,277.0 L148.5,279.9 L146.8,284.8 L144.7,287.0 L144.0,291.5 L145.6,293.1 L145.6,294.4 L142.9,295.6"/>
<path d="M170.9,179.4 L157.6,252.9 L154.0,253.1 L150.6,253.0 L150.2,256.0 L150.4,259.3 L150.2,264.5 L149.1,266.9"/>
<path d="M159.4,242.8 L169.0,244.6 L178.6,246.4 L188.2,248.1 L197.9,249.7 L207.5,251.1 L217.2,252.5 L226.9,253.7 L236.6,254.8 L246.3,255.9 L256.0,256.8 L265.7,257.6 L275.5,258.2 L285.2,258.8 L294.9,259.3 L304.7,259.6 L314.4,259.9 L324.2,260.0 L334.0,260.0 L343.7,259.9"/>
<path d="M202.8,146.2 L195.2,197.0 L204.1,198.4 L213.1,199.8"/>
<path d="M202.8,146.2 L211.3,147.6 L219.7,148.8 L228.1,150.0 L236.6,151.1 L245.1,152.1 L253.5,153.0 L262.0,153.8"/>
<path d="M213.1,199.8 L222.0,201.1 L231.0,202.2 L239.9,203.3 L248.9,204.2 L257.9,205.1 L266.9,205.9 L275.9,206.5"/>
<path d="M213.1,199.8 L207.7,241.0 L202.3,282.3 L197.0,323.4"/>
<path d="M266.1,103.1 L262.0,153.8 L257.9,205.1"/>
<path d="M260.0,179.4 L269.7,180.2 L279.4,180.9 L289.1,181.5 L298.9,182.0 L308.6,182.3 L313.8,184.4 L320.0,184.5 L324.4,187.7 L326.7,189.2"/>
<path d="M275.9,206.5 L272.8,258.1"/>
<path d="M275.2,219.4 L285.4,220.0 L295.7,220.5 L306.0,220.9 L316.3,221.2 L326.6,221.3 L336.9,221.2"/>
<path d="M263.0,141.9 L272.0,142.6 L280.9,143.3 L289.9,143.8 L298.9,144.2 L307.9,144.6 L316.8,144.8 L325.8,144.9"/>
<path d="M263.8,257.4 L263.3,263.9 L258.7,321.7 L246.7,320.6 L234.6,319.4 L222.6,318.1 L223.2,321.0"/>
<path d="M263.3,263.9 L272.9,264.6 L282.5,265.1 L292.1,265.6 L291.1,290.6 L294.0,292.8 L298.9,294.3 L304.8,296.4 L309.7,297.2 L311.7,299.8 L318.6,300.6 L321.6,300.0 L326.6,302.0 L332.5,300.7 L337.5,300.3 L345.7,303.3"/>
<path d="M343.5,232.5 L343.4,234.1 L343.8,266.4 L345.8,280.7 L345.7,303.3 L350.1,304.3 L350.2,311.1 L350.5,324.3 L352.0,326.8 L355.2,334.4 L354.4,342.2 L354.0,347.3 L353.2,353.7"/>
<path d="M350.2,311.4 L364.7,311.0 L379.1,310.3"/>
<path d="M343.8,266.4 L354.5,266.1 L365.3,265.8 L376.0,265.3 L386.7,264.6 L384.9,271.2 L391.4,270.8"/>
<path d="M320.7,105.9 L321.7,112.3 L321.2,118.6 L323.6,125.0 L323.9,132.6 L325.5,140.3 L325.8,144.9 L323.4,149.2 L326.7,153.1 L326.6,176.2 L325.3,181.3 L326.6,185.8 L326.7,189.2"/>
<path d="M326.7,189.2 L329.6,198.1 L331.4,204.5 L331.9,211.6 L332.6,213.5 L336.9,221.2 L340.6,224.4 L338.8,227.7 L343.5,232.5"/>
<path d="M326.6,176.2 L335.7,176.2 L344.8,176.0 L353.9,175.8 L363.1,175.5 L372.2,175.1"/>
<path d="M332.6,213.5 L341.8,213.5 L351.0,213.3 L360.1,213.0 L369.3,212.6 L372.2,215.3"/>
<path d="M363.6,134.5 L361.4,135.1 L361.6,142.6 L356.9,148.8 L358.3,159.6 L362.3,162.7 L366.8,167.6 L372.2,175.1 L373.7,184.6 L377.9,187.6 L382.1,193.8 L381.4,197.1 L374.6,203.9 L375.8,209.0 L372.2,215.3 L371.7,220.2 L376.6,226.4 L379.6,230.2 L384.5,234.4 L384.8,237.6 L383.6,242.8 L388.0,246.4 L392.3,253.9 L396.0,257.5 L395.7,262.7 L392.9,264.2 L391.4,270.8 L389.4,277.4 L386.4,284.1 L383.7,289.4 L380.1,297.4 L378.5,303.9 L379.1,310.3 L381.1,316.6 L378.4,324.5 L375.9,336.2"/>
<path d="M375.9,336.2 L395.1,335.1 L394.7,340.2 L398.2,345.1"/>
<path d="M377.9,187.6 L390.4,186.8 L402.9,185.7"/>
<path d="M406.1,195.0 L406.2,195.8 L408.7,226.0 L408.6,231.8 L406.4,239.8 L405.7,246.3"/>
<path d="M396.0,257.5 L401.9,255.7 L405.7,246.3 L409.6,244.0 L415.3,244.1 L419.8,242.4 L424.5,241.9 L426.9,237.7 L429.1,231.8 L434.2,226.4 L436.9,226.1 L440.1,229.5 L445.0,230.8 L451.3,228.9 L455.6,232.6 L458.9,229.5 L462.0,221.1 L466.7,217.8 L469.3,213.4 L469.9,205.4 L470.4,200.9"/>
<path d="M434.1,226.4 L430.4,193.1"/>
<path d="M409.0,194.7 L419.7,193.6 L430.3,192.3 L430.4,193.1 L442.4,191.1"/>
<path d="M467.7,183.6 L472.2,212.6"/>
<path d="M472.2,212.6 L483.0,210.7 L493.7,208.6 L504.3,206.4 L515.0,204.0 L516.4,202.2 L518.3,202.2"/>
<path d="M473.9,179.0 L474.4,182.4 L484.1,180.6 L493.7,178.6 L503.3,176.6 L512.9,174.4 L520.3,181.1 L517.5,186.6 L517.9,191.7 L523.4,196.3 L518.3,202.2"/>
<path d="M520.3,181.1 L528.3,183.9"/>
<path d="M392.9,264.2 L406.8,263.1 L406.7,261.2 L417.1,260.3 L427.6,259.4 L438.0,258.3 L448.4,257.1 L459.0,255.6 L469.6,254.1 L480.2,252.4 L490.8,250.5 L501.3,248.5 L511.9,246.4 L522.4,244.2"/>
<path d="M386.4,284.1 L396.4,283.4 L406.5,282.6 L416.5,281.6 L426.5,280.6 L436.6,279.4 L446.6,278.2 L456.6,276.8"/>
<path d="M406.9,282.5 L406.8,317.4 L409.6,343.9"/>
<path d="M432.2,280.2 L439.3,306.7 L441.9,313.8 L441.8,322.9 L443.7,330.4 L445.6,334.0"/>
<path d="M443.7,330.4 L443.7,330.4 L430.4,331.9 L417.0,333.3 L419.5,337.5 L418.6,342.4"/>
<path d="M445.6,334.0 L473.1,331.9 L475.0,334.3 L474.8,329.2 L480.5,328.9"/>
<path d="M456.6,276.8 L459.3,282.9 L467.6,292.0 L475.7,299.2 L479.7,305.7 L483.8,311.1"/>
<path d="M456.6,276.8 L464.0,273.0 L476.2,271.7 L477.4,272.2 L479.4,275.5 L490.2,273.8 L503.1,283.8"/>
<path d="M444.7,278.4 L447.2,272.9 L451.8,270.0 L456.5,265.0 L460.2,263.2 L465.2,260.9 L467.4,254.4"/>
<path d="M448.4,257.1 L453.5,253.1 L457.8,249.2 L462.7,242.7 L456.0,235.8 L455.6,232.6"/>
<path d="M462.7,242.7 L470.7,245.2 L478.7,240.6 L480.5,233.7 L483.0,226.0 L486.9,226.6 L489.4,221.5 L492.6,213.0 L498.5,212.9"/>
<path d="M481.7,210.9 L482.8,217.5 L487.5,213.4 L491.7,210.3 L496.7,209.6 L498.5,212.9 L501.0,215.2 L505.1,217.0 L507.1,222.5 L513.8,227.0"/>
<path d="M515.0,204.0 L519.0,219.7 L525.0,218.5"/>
<path d="M521.7,132.5 L522.4,137.7 L524.4,142.5 L525.1,149.6 L526.5,149.9 L528.8,160.6 L528.8,169.8 L531.2,179.2 L530.5,183.3"/>
<path d="M528.8,160.6 L545.8,156.6 L549.5,153.3"/>
<path d="M528.8,169.8 L543.6,166.3 L547.2,165.3 L551.1,171.1"/>
<path d="M543.6,166.3 L545.2,175.2"/>
<path d="M536.9,128.4 L537.7,135.0 L535.2,141.0 L535.4,147.5 L535.1,155.6 L535.9,159.0"/>
<path d="M539.5,123.9 L546.3,147.2 L549.7,150.6"/>
<path d="M113.0,89.5 L116.0,87.2 L117.0,91.0 L115.4,95.0 L112.3,95.7 L110.8,94.0 L113.0,89.5"/>
<path d="M513.0,222.0 L509.0,219.0 L506.0,215.0 L503.0,213.5"/>
<path d="M515.0,228.0 L511.0,225.0 L508.0,223.0"/>
<path d="M516.5,234.0 L513.0,231.5"/>
<path d="M518.0,240.0 L514.0,238.5 L511.0,239.0"/>
<path d="M377.8,135.0 L388.0,138.0 L395.8,141.5 L400.4,146.0 L402.7,150.8"/>
</g>
<path d="M514.0,375.6 L517.0,374.0 L525.0,372.4 L525.6,373.6 L519.0,376.0 L516.0,377.0Z" fill="#d3d3d3" stroke="#111" stroke-width="0.6"/>
<path d="M525.0,370.0 L530.0,370.4 L534.0,373.6 L535.6,378.0 L534.4,381.0 L533.0,380.0 L534.0,377.0 L532.0,373.6 L526.0,371.0Z" fill="#d3d3d3" stroke="#111" stroke-width="0.6"/>
<path d="M525.6,393.0 L529.0,392.4 L531.6,399.0 L532.0,402.0 L528.0,401.6 L525.0,399.0Z" fill="#d3d3d3" stroke="#111" stroke-width="0.6"/>
<path d="M532.0,403.0 L535.0,403.6 L536.4,408.0 L533.0,408.4 L531.6,405.6Z" fill="#d3d3d3" stroke="#111" stroke-width="0.6"/>
<path d="M540.0,385.0 L543.0,385.6 L548.0,389.6 L549.0,393.0 L547.6,393.6 L547.0,390.4 L542.4,387.0Z" fill="#d3d3d3" stroke="#111" stroke-width="0.6"/>
<path d="M533.0,392.4 L536.4,391.6 L536.0,393.0Z" fill="#d3d3d3" stroke="#111" stroke-width="0.6"/>
<path d="M553.0,393.0 L556.0,395.0 L559.4,398.4 L558.0,399.2 L555.0,396.0Z" fill="#d3d3d3" stroke="#111" stroke-width="0.6"/>
<path d="M553.0,406.4 L556.0,407.6 L555.6,408.4 L552.6,407.2Z" fill="#d3d3d3" stroke="#111" stroke-width="0.6"/>
<path d="M560.0,404.4 L562.4,406.0 L565.0,410.0 L563.6,410.0 L561.0,406.4Z" fill="#d3d3d3" stroke="#111" stroke-width="0.6"/>
<path d="M568.4,396.4 L569.6,396.4 L569.6,399.0 L568.4,399.0Z" fill="#d3d3d3" stroke="#111" stroke-width="0.6"/>
</g>
<rect x="0" y="71.0" width="650" height="1.5" fill="#b6b6b6"/>
<text x="326.4" y="16.6" font-family="Liberation Sans, Arial, Helvetica, sans-serif" font-size="23.5" text-anchor="middle" textLength="232" lengthAdjust="spacingAndGlyphs" fill="#000">Total Precipitation Percentiles</text>
<text x="326" y="33" font-family="Liberation Sans, Arial, Helvetica, sans-serif" font-size="17" text-anchor="middle" textLength="58" lengthAdjust="spacingAndGlyphs" fill="#000">June 2025</text>
<text x="326.3" y="48" font-family="Liberation Sans, Arial, Helvetica, sans-serif" font-size="13.4" text-anchor="middle" textLength="114.6" lengthAdjust="spacingAndGlyphs" fill="#000">Ranking Period: 1895-2025</text>
<text x="326.3" y="61" font-family="Liberation Sans, Arial, Helvetica, sans-serif" font-size="11.3" text-anchor="middle" textLength="202.6" lengthAdjust="spacingAndGlyphs" fill="#000">NOAA’s National Centers for Environmental Information</text>
<text x="2.5" y="458.8" font-family="Liberation Sans, Arial, Helvetica, sans-serif" font-size="10" text-anchor="start" textLength="87.3" lengthAdjust="spacingAndGlyphs" fill="#222">Created: Mon Jul 07 2025</text>
<text x="2.5" y="472.6" font-family="Liberation Sans, Arial, Helvetica, sans-serif" font-size="10" text-anchor="start" textLength="91.3" lengthAdjust="spacingAndGlyphs" fill="#222">Source: nClimGrid-Monthly</text>
<rect x="135.4" y="418.2" width="34.7" height="12.1" fill="#b2b2b2" stroke="#111" stroke-width="1.2"/>
<text stroke="#1a1a1a" stroke-width="0.2" x="153.2" y="444.5" font-family="Liberation Sans, Arial, Helvetica, sans-serif" font-size="10" text-anchor="middle" textLength="23.5" lengthAdjust="spacingAndGlyphs" fill="#1a1a1a">Record</text>
<text stroke="#1a1a1a" stroke-width="0.2" x="153.2" y="456.2" font-family="Liberation Sans, Arial, Helvetica, sans-serif" font-size="10" text-anchor="middle" textLength="18.8" lengthAdjust="spacingAndGlyphs" fill="#1a1a1a">Driest</text>
<text stroke="#1a1a1a" stroke-width="0.2" x="153.2" y="467.8" font-family="Liberation Sans, Arial, Helvetica, sans-serif" font-size="10" text-anchor="middle" textLength="35" lengthAdjust="spacingAndGlyphs" fill="#1a1a1a">(Tie 0.00&quot;)</text>
<rect x="181.9" y="418.2" width="34.7" height="12.1" fill="#8c510a" stroke="#111" stroke-width="1.2"/>
<text stroke="#1a1a1a" stroke-width="0.2" x="201.2" y="444.5" font-family="Liberation Sans, Arial, Helvetica, sans-serif" font-size="10" text-anchor="middle" textLength="23.5" lengthAdjust="spacingAndGlyphs" fill="#1a1a1a">Record</text>
<text stroke="#1a1a1a" stroke-width="0.2" x="201.2" y="456.2" font-family="Liberation Sans, Arial, Helvetica, sans-serif" font-size="10" text-anchor="middle" textLength="18.8" lengthAdjust="spacingAndGlyphs" fill="#1a1a1a">Driest</text>
<rect x="228.4" y="418.2" width="34.7" height="12.1" fill="#d8b365" stroke="#111" stroke-width="1.2"/>
<text stroke="#1a1a1a" stroke-width="0.2" x="247.2" y="444.5" font-family="Liberation Sans, Arial, Helvetica, sans-serif" font-size="10" text-anchor="middle" textLength="18.6" lengthAdjust="spacingAndGlyphs" fill="#1a1a1a">Much</text>
<text stroke="#1a1a1a" stroke-width="0.2" x="247.2" y="456.2" font-family="Liberation Sans, Arial, Helvetica, sans-serif" font-size="10" text-anchor="middle" textLength="19.5" lengthAdjust="spacingAndGlyphs" fill="#1a1a1a">Below</text>
<text stroke="#1a1a1a" stroke-width="0.2" x="247.2" y="467.8" font-family="Liberation Sans, Arial, Helvetica, sans-serif" font-size="10" text-anchor="middle" textLength="28.3" lengthAdjust="spacingAndGlyphs" fill="#1a1a1a">Average</text>
<rect x="274.9" y="418.2" width="34.7" height="12.1" fill="#f6e8c3" stroke="#111" stroke-width="1.2"/>
<text stroke="#1a1a1a" stroke-width="0.2" x="293.6" y="444.5" font-family="Liberation Sans, Arial, Helvetica, sans-serif" font-size="10" text-anchor="middle" textLength="19.5" lengthAdjust="spacingAndGlyphs" fill="#1a1a1a">Below</text>
<text stroke="#1a1a1a" stroke-width="0.2" x="293.6" y="456.2" font-family="Liberation Sans, Arial, Helvetica, sans-serif" font-size="10" text-anchor="middle" textLength="28.3" lengthAdjust="spacingAndGlyphs" fill="#1a1a1a">Average</text>
<rect x="321.4" y="418.2" width="34.7" height="12.1" fill="#f5f5f5" stroke="#111" stroke-width="1.2"/>
<text stroke="#1a1a1a" stroke-width="0.2" x="338.9" y="444.5" font-family="Liberation Sans, Arial, Helvetica, sans-serif" font-size="10" text-anchor="middle" textLength="17" lengthAdjust="spacingAndGlyphs" fill="#1a1a1a">Near</text>
<text stroke="#1a1a1a" stroke-width="0.2" x="338.9" y="456.2" font-family="Liberation Sans, Arial, Helvetica, sans-serif" font-size="10" text-anchor="middle" textLength="28.3" lengthAdjust="spacingAndGlyphs" fill="#1a1a1a">Average</text>
<rect x="367.9" y="418.2" width="34.7" height="12.1" fill="#c7eae5" stroke="#111" stroke-width="1.2"/>
<text stroke="#1a1a1a" stroke-width="0.2" x="383.6" y="444.5" font-family="Liberation Sans, Arial, Helvetica, sans-serif" font-size="10" text-anchor="middle" textLength="21.5" lengthAdjust="spacingAndGlyphs" fill="#1a1a1a">Above</text>
<text stroke="#1a1a1a" stroke-width="0.2" x="383.6" y="456.2" font-family="Liberation Sans, Arial, Helvetica, sans-serif" font-size="10" text-anchor="middle" textLength="28.3" lengthAdjust="spacingAndGlyphs" fill="#1a1a1a">Average</text>
<rect x="414.4" y="418.2" width="34.7" height="12.1" fill="#5ab4ac" stroke="#111" stroke-width="1.2"/>
<text stroke="#1a1a1a" stroke-width="0.2" x="433.6" y="444.5" font-family="Liberation Sans, Arial, Helvetica, sans-serif" font-size="10" text-anchor="middle" textLength="18.6" lengthAdjust="spacingAndGlyphs" fill="#1a1a1a">Much</text>
<text stroke="#1a1a1a" stroke-width="0.2" x="433.6" y="456.2" font-family="Liberation Sans, Arial, Helvetica, sans-serif" font-size="10" text-anchor="middle" textLength="21.5" lengthAdjust="spacingAndGlyphs" fill="#1a1a1a">Above</text>
<text stroke="#1a1a1a" stroke-width="0.2" x="433.6" y="467.8" font-family="Liberation Sans, Arial, Helvetica, sans-serif" font-size="10" text-anchor="middle" textLength="28.3" lengthAdjust="spacingAndGlyphs" fill="#1a1a1a">Average</text>
<rect x="460.9" y="418.2" width="34.7" height="12.1" fill="#01665e" stroke="#111" stroke-width="1.2"/>
<text stroke="#1a1a1a" stroke-width="0.2" x="477.5" y="444.5" font-family="Liberation Sans, Arial, Helvetica, sans-serif" font-size="10" text-anchor="middle" textLength="23.5" lengthAdjust="spacingAndGlyphs" fill="#1a1a1a">Record</text>
<text stroke="#1a1a1a" stroke-width="0.2" x="477.5" y="456.2" font-family="Liberation Sans, Arial, Helvetica, sans-serif" font-size="10" text-anchor="middle" textLength="26" lengthAdjust="spacingAndGlyphs" fill="#1a1a1a">Wettest</text>
<g><clipPath id="lg"><circle cx="615" cy="444.7" r="25"/></clipPath>
<circle cx="615" cy="444.7" r="25" fill="#0d84c8"/>
<g clip-path="url(#lg)">
<path d="M586,437 L590.6,438.1 C592.5,438.8 594.5,439.8 596.5,441.1 C599,443 601.5,445.5 603.9,447.7 C605.5,449 607.5,450.3 609.8,451.4 C609,452.3 608,453.2 606.8,454.3 C608.5,454.3 610.5,454 612.7,453.6 C614.5,453.2 616.5,452.6 618.6,452.1 C621,451.7 623.5,451.3 626,450.7 C624.5,450.3 623,449.8 621.5,449.2 C624,448 626.5,446 628.9,443.3 C631,440.5 632.5,438 634.8,435.9 C636,435 637,434.5 638.5,433.7 L645,431 L645,415 L585,415 Z" fill="#fff"/>
<path d="M594.3,430.8 C597,432 598,434.5 599.5,436.7 C601.5,439.5 603,441.5 605.3,444 C607.5,446.5 610,448.7 612.7,449.2 C615.5,449.7 618,449 620,447.7 C622.5,446 624.5,444 626,441.8 C627.8,439.3 629,437 630.4,434.5 C631.8,432.3 633,430.6 634.8,429.3 L645,415 L585,415 Z" fill="#0b2a88"/>
</g>
<text x="615" y="435.4" font-family="Liberation Sans, Arial, Helvetica, sans-serif" font-size="8" font-weight="bold" text-anchor="middle" textLength="20.6" lengthAdjust="spacingAndGlyphs" fill="#fff">NOAA</text></g>
</svg>
</body></html>
